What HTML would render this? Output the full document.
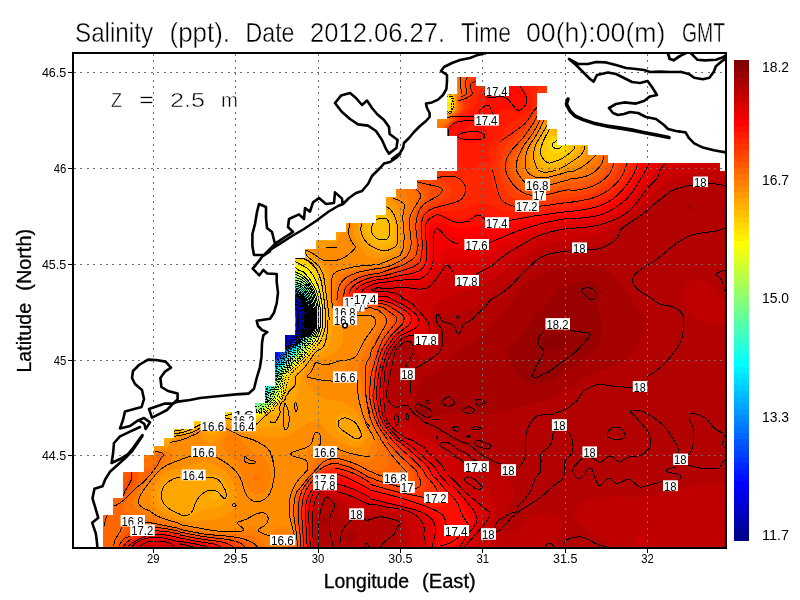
<!DOCTYPE html>
<html><head><meta charset="utf-8"><title>Salinity (ppt)</title>
<style>html,body{margin:0;padding:0;background:#fff}svg{display:block}text{font-family:"Liberation Sans",sans-serif;fill:#000}</style></head><body>
<svg width="800" height="600" viewBox="0 0 800 600">
<rect width="800" height="600" fill="#fff"/>
<defs><clipPath id="sea"><path d="M103,548L103,515L113,515L113,498L123,498L123,472L144,472L144,455L154,455L154,446L164,446L164,438L174,438L174,429.3L194,429.3L194,421L225,421L225,412L255,412L255,403.4L265,403.4L265,386L275.4,386L275.4,352L285.4,352L285.4,335L295.4,335L295.4,258L305.4,258L305.4,249L316.4,249L316.4,240.4L336.4,240.4L336.4,232L346.4,232L346.4,223.3L376.3,223.3L376.3,215L386.3,215L386.3,197.5L396.3,197.5L396.3,189L417,189L417,180L437,180L437,171.3L457.6,171.3L457.6,136L447.4,136L447.4,127.6L437,127.6L437,119.6L447.4,119.6L447.4,94.4L457.6,94.4L457.6,77L475.6,77L475.6,86L547,86L547,93L537,93L537,120L547,120L547,129.3L557,129.3L557,145.7L587.5,145.7L587.5,155L608,155L608,163L719.3,163L719.3,171.7L727,171.7L727,548Z"/></clipPath><clipPath id="fr"><rect x="73" y="53" width="653" height="494.5"/></clipPath></defs>
<g clip-path="url(#sea)" shape-rendering="crispEdges">
<rect x="70" y="50" width="660" height="500" fill="#000099"/>
<path fill="#0000a6" d="M70,50L730,50L730,550L70,550ZM296,310L295.5,312L296,313.7L296.6,312ZM296,316.3L295,317.6L294.6,320L295,322.5L296,324L297.1,323L297.5,319L297,317.2ZM296,326.4L294.9,328L295,330.3L296,330.4L296.9,328Z"/>
<path fill="#0000b2" d="M70,50L730,50L730,550L70,550ZM296,306.9L295,307.8L291.8,314L291.5,316L292.1,320L291,325L292.7,331L294,332.9L295,333.3L296,333L296.8,332L300.8,326L299.3,321L300.9,316L297.5,308Z"/>
<path fill="#0000bf" d="M70,50L730,50L730,550L70,550ZM286,338.6L285.4,341L286,342L287,341.8L287.7,340L287,338.7ZM296,305.5L294.4,307L290.3,315L290.4,320L289.4,325L289.6,328L290.6,333L291.3,334L293,334.8L296,334.2L299,330.4L302,327.7L302.7,326L300.7,321L302.6,317L302.5,315L300.4,312L298,306.6L297,305.6Z"/>
<path fill="#0000cc" d="M70,50L730,50L730,550L70,550ZM296,303.8L294,306L289.5,314L287,332.4L282.5,337L282.3,338L283,340L285,342.9L286,343.4L288,342.5L297,334.4L303.3,327L303.4,325L302,321L303.4,317L303.4,315L298.9,306L297,303.9Z"/>
<path fill="#0000d9" d="M70,50L730,50L730,550L70,550ZM295,302.8L289,313L285.4,330L280.8,337L280.8,339L282,341L284.8,344L286,344.4L288.6,343L296,336.4L303,328.8L304,327L303.2,321L304.1,317L303.7,314L299,304.6L297,302.6L296,302.3Z"/>
<path fill="#0000e6" d="M70,50L730,50L730,550L70,550ZM295,301.6L288,313L283.8,329L279.7,337L279.8,339L280.6,341L285,345L287,344.9L293.2,340L303.6,329L304.5,327L304.1,321L304.6,316L304,313.2L299,303.3L297,301.6Z"/>
<path fill="#0000f2" d="M70,50L730,50L730,550L70,550ZM295,300.8L293.6,302L286.9,313L282.4,328L278.9,336L278.8,339L280,341.9L281.9,344L285,345.8L288,345L294,340L304,329.3L305,327.1L305.1,316L304,311.7L302,307L299,302.2L297,300.8Z"/>
<path fill="#0000ff" d="M70,50L730,50L730,550L70,550ZM295,299.9L292.7,302L286.3,312L277.8,336L277.9,340L279.3,343L281.5,345L285,346.5L288,345.6L294.7,340L300,334.6L305.3,328L305.5,317L305,313L303,307.7L300,302.3L298,300.4Z"/>
<path fill="#000dff" d="M70,50L730,50L730,550L70,550ZM273,353.9L272.5,355L272.8,357L274,357.5L275,357.2L276,356L276,354.7L275,353.6ZM296,298.9L295,299.1L292.7,301L285.7,311L283,317L277.1,334L276.5,339L277.6,343L280,345.6L283,346.7L286,347.1L289.6,345L299,336.3L305.7,328L305.8,317L305,311.7L303,306.5L300,301.2L298,299.6Z"/>
<path fill="#0019ff" d="M70,50L730,50L730,550L70,550ZM274,351.5L272,353L271.3,355L272,357.8L274,358.6L276.6,357L277.4,355L276,352ZM294,298.8L288.5,305L283.9,312L276.5,331L275.3,336L275.4,341L277,345.5L279,347L285,347.8L289,346L299,336.9L305,330L306.1,328L306,315L304,307.8L301,301.8L299,299.4L296,298.1Z"/>
<path fill="#0026ff" d="M70,50L730,50L730,550L70,550ZM295,297.6L290.8,301L284.4,309L280.6,316L276.7,326L274.8,332L273.9,337L274.5,348L271.4,352L270.5,354L270.7,357L271.2,358L273,359.2L276,358.5L278,356.1L278.2,350L281,348.7L286,348.2L289.6,346L300,336.3L306.4,328L306,313L304,306.9L300,299.6L297.7,298Z"/>
<path fill="#0033ff" d="M70,50L730,50L730,550L70,550ZM295,297L293.1,298L289.8,301L283.8,308L279.6,315L275.8,324L272.6,335L272.1,347L269.6,354L270,357L272,359.4L274,359.9L277,358.3L278.6,356L279.2,352L280,350.7L282,349.5L286,348.6L290,346.1L301,335.6L306.7,328L306.9,321L306.3,313L304,306.1L300,299L297,297.2Z"/>
<path fill="#0040ff" d="M70,50L730,50L730,550L70,550ZM294,296.8L287.6,302L281.7,309L277.6,316L273.4,326L271.3,334L270.4,346L268.7,354L269.6,358L272,360.1L275,360.2L277,358.9L279,356.3L280,352.8L281,351.3L288,347.9L295.1,342L301,336L307,328.2L307.2,321L306.5,313L304,305.4L302,301.3L299.4,298L296,296.5Z"/>
<path fill="#004dff" d="M70,50L730,50L730,550L70,550ZM293,296.7L286.4,302L280.3,309L275.5,317L271.4,327L269.4,336L267.8,354L268.8,358L270,359.5L272,360.7L275,360.7L277,359.5L279.2,357L281.5,352L288,348.3L296,341.5L302,335.2L307.3,328L307.4,321L306.8,313L303.2,303L301,299.3L299,297.3L296,296Z"/>
<path fill="#0059ff" d="M70,50L730,50L730,550L70,550ZM294,295.8L287.3,300L279.5,308L274.4,316L270.1,326L267.7,336L266.6,353L267.1,356L268.5,359L270,360.5L272,361.4L275,361.3L277.1,360L279.7,357L282,352.6L289,347.9L296,341.8L302,335.6L306.5,330L307.6,328L307.7,322L307,313L304.4,305L302.4,301L300,297.7L297,295.8Z"/>
<path fill="#0066ff" d="M70,50L730,50L730,550L70,550ZM292,296L284.6,301L277.9,308L272.6,316L268.3,326L265.9,337L265.3,352L266.8,358L268.2,360L271,361.8L273,362.2L275,361.9L277.8,360L282.6,353L290,347.4L297,341.2L302,336L306.8,330L307.8,328L308,322L307.1,312L303.3,302L301,298.4L298,295.8L295,295.1Z"/>
<path fill="#0073ff" d="M70,50L730,50L730,550L70,550ZM293,295L288.8,297L284.3,300L277,307L270.8,316L266.5,326L264.1,338L263.9,352L264.8,356L266.2,359L268,361.1L271,362.7L275,362.6L278,360.5L283.5,353L296,342.5L301,337.4L307.1,330L308,328L308.2,322L307.3,312L303.6,302L301,298L299,296L296,294.6Z"/>
<path fill="#0080ff" d="M70,50L730,50L730,550L70,550ZM292,294.7L287.2,297L282.6,300L275.2,307L269,316L264.7,326L262.3,338L262,346L262.5,352L263.5,356L264.9,359L267,361.6L270,363.4L274,363.6L278,361.2L284.3,353L296,342.8L301.7,337L307.3,330L308.3,328L308.4,322L307.6,312L303.9,302L301,297.5L298,294.9L295,294.1Z"/>
<path fill="#008cff" d="M70,50L730,50L730,550L70,550ZM293,293.8L289,295.2L283.7,298L275.1,305L268.2,314L263.1,325L261.5,331L260.4,338L260.3,345L260.8,351L261.7,355L263.4,359L266,362.3L269,364.2L273,364.7L275,364.2L277,362.9L286.1,352L301.1,338L308.2,329L308.7,323L307.9,313L304.6,303L301.7,298L299,295L296,293.6Z"/>
<path fill="#0099ff" d="M70,50L730,50L730,550L70,550ZM294,292.9L289,294.4L283.5,297L278.8,300L274.1,304L266.8,313L263.9,318L261.4,324L259.7,330L258.6,337L258.4,344L259.1,351L260.4,356L262.4,360L265,363.2L269,365.6L271,365.9L274,365.5L277,363.7L287.7,351L302,337.3L308.4,329L308.9,323L308.2,313L305.7,305L303.4,300L300,295.3L297,293.3Z"/>
<path fill="#00a6ff" d="M70,50L730,50L730,550L70,550ZM291,293L285.3,295L280,297.8L275.4,301L271,305L266.7,310L263.4,315L258.7,326L257.1,333L256.5,340L256.8,347L257.8,353L259.6,358L262,362.1L265,365.1L269,367.2L273,366.9L277,364.6L289.2,350L302,337.7L308,330L308.9,328L309.1,322L308.3,312L304.3,301L301,295.9L298,293.2L295,292.3Z"/>
<path fill="#00b2ff" d="M70,50L730,50L730,550L70,550ZM293,291.9L287,293.4L281,295.9L275.8,299L270.8,303L266,308L262.4,313L259.2,319L256.9,325L255.2,332L254.5,339L254.8,346L256,353L258.2,359L261,363.4L265,367.2L269,369.1L272,368.9L277,365.5L289.7,350L302,338L308.3,330L309.2,328L309.4,322L308.6,312L305.5,303L302.2,297L299.8,294L296.2,292Z"/>
<path fill="#00bfff" d="M70,50L730,50L730,550L70,550ZM289,292L282.5,294L276.4,297L270.6,301L266,305.3L261.4,311L257.8,317L255.3,323L253.4,330L252.5,337L252.7,345L253.8,352L255.8,358L258,362.1L261,366.1L264,368.8L269,372L272,375.9L273,376.2L274.1,375L274.1,373L273.4,371L274.1,369L277.2,366L290.2,350L302.4,338L308.5,330L309.4,328L309.6,322L308.8,312L304.5,300L301.3,295L298,292.1L294,291.2ZM263,390.8L262.3,392L263,393.2L264,393.2L264,391.9Z"/>
<path fill="#00ccff" d="M70,50L730,50L730,550L70,550ZM291,290.9L284,292.4L277.4,295L271,298.7L265.7,303L261.1,308L257,314L253.7,321L251.5,328L250.5,335L250.4,343L251.6,351L253.8,358L256.4,363L260.2,368L269.8,376L272,377.3L274,377L275,375.1L274.7,371L275.2,369L290.8,350L303,337.7L308.8,330L309.6,328L309.8,322L309.1,312L305.4,301L302,295.3L299,292.2L295,290.8ZM262,389.4L261,391L261.3,393L263,394.4L265,394.1L265.1,392L264,389.6L263,389Z"/>
<path fill="#00d9ff" d="M70,50L730,50L730,550L70,550ZM286,290.9L279,292.9L272.4,296L266.4,300L261,305L257,310L253.4,316L250.5,323L248.8,330L248,338L248.5,346L250,353L252.6,360L256,366L261,371.8L265.1,375L271.6,378L274,377.6L275,376.5L275.7,374L275.6,370L276.7,368L292.3,349L303,338.2L309,330L309.8,328L310.1,322L309.4,312L306.7,303L303,296L300,292.4L297,290.7L293,290.1ZM263,387.9L260.9,389L260.2,392L261.1,394L264,395.3L265,395L265.9,393L264.6,389Z"/>
<path fill="#00e5ff" d="M70,50L730,50L730,550L70,550ZM286,289.9L279,291.6L272.9,294L267,297.3L261,302.1L256.4,307L252.3,313L249,320L246.9,327L245.8,334L245.8,342L247,350L249.1,357L252.3,364L257,370.8L262,376L266,377.9L272,378.7L274,378.2L275,377.2L276,374.8L276.2,370L277.4,368L292.9,349L303,338.6L309,330.4L310.1,328L310.3,321L309.7,312L306.7,302L303.5,296L300,291.8L297,290.2L292,289.5ZM262,386.8L259.8,389L259.3,391L259.7,393L262,395.4L265,395.6L266,394.6L266.3,393L265.4,389L264,387.1Z"/>
<path fill="#00f2ff" d="M70,50L730,50L730,550L70,550ZM286,289L279,290.3L272,292.7L265.6,296L260,300.1L255.1,305L250.6,311L247,318L244.7,325L243.5,332L243.2,340L244.2,348L246,355L248.9,362L253,369.1L260,378.3L263,380.7L273,379.1L275,377.8L276.3,375L276.8,370L278,368L293,349.6L303.1,339L309,330.9L310.3,328L310.6,321L309.9,311L306.8,301L303.4,295L300,291.1L297,289.7L292,288.8ZM261,384.8L258.9,388L258.7,392L259.6,394L261,395.4L263,396.4L265,396.3L266.7,394L266,388.6L265,386.4L263,384.4Z"/>
<path fill="#00ffff" d="M70,50L730,50L730,550L70,550ZM287,288L279,288.9L271.8,291L264,294.7L257.9,299L252,304.8L247.6,311L244.1,318L241.7,326L240.8,332L240.6,339L241.3,346L242.9,353L247.4,364L257.6,381L258,384L257.5,390L258.2,393L260,395.4L263,396.9L265,396.9L266,396.3L267,394.4L267.1,391L266,385L266.3,383L268.6,381L273,379.5L275,378.3L276.3,376L277.1,371L278.6,368L293.3,350L303.5,339L309.2,331L310.6,328L310.8,321L310.2,311L307.7,302L304.6,296L301,291.3L299,289.9L293,288.3Z"/>
<path fill="#0dfff2" d="M70,50L730,50L730,550L70,550ZM277,288L269.5,290L262.8,293L256.6,297L251,302.1L246.2,308L242.3,315L239.7,322L238.1,330L237.8,337L238.3,344L239.5,350L241.7,357L245.4,365L254.7,381L257.3,393L260,396.2L264,397.7L266,397L267.2,395L267.2,386L268.2,383L270,381.5L274,379.5L275.5,378L276.9,375L277.5,371L279.2,368L294,350L304,339L309.5,331L310.8,328L311.1,320L310.6,311L307.4,300L302.3,292L299,289.2L292,287.4L285,287.1Z"/>
<path fill="#1affe5" d="M70,50L730,50L730,550L70,550ZM275,286.8L267,288.9L260,292L253,296.6L247.3,302L242.7,308L239,315L236.6,322L235.1,330L234.9,337L235.5,344L237.3,352L239.9,359L243.8,367L252.1,381L255.3,391L256.8,394L260,397L264,398.3L266,397.8L267.6,395L268.1,387L269,384L275.9,378L278,371L279.7,368L295.5,349L304,339.6L310.4,330L311.2,327L311.1,312L310,307L307.5,299L304.6,294L302.3,291L300,289L298,288.1L291,286.5L283,286Z"/>
<path fill="#26ffd9" d="M70,50L730,50L730,550L70,550ZM278,285L269,286.3L261,289L253.5,293L247.1,298L241.7,304L236.8,312L233.8,320L232.1,328L231.8,336L232.6,344L234.5,352L237.5,360L241.6,368L250,381.8L255.6,394L259,397.2L264,399L266,398.5L267.1,397L268,395L269.6,385L270.9,383L276.2,378L279.5,369L284.1,363L304,340.2L310,331.3L311.4,328L311.7,320L311.1,310L308.5,300L304,292L301,288.9L297,287.1L288,285.2Z"/>
<path fill="#33ffcc" d="M70,50L730,50L730,550L70,550ZM272,283.9L263,285.8L255.1,289L248,293.4L241.7,299L236.2,306L232.5,313L229.9,321L228.6,330L228.7,338L229.9,346L232.5,355L236,363L248,382.6L254.2,394L258.7,398L264,399.5L266,399.1L267.5,397L270.1,386L271.1,384L276.5,378L278.4,372L280,369.1L304,340.9L310.5,331L311.8,327L311.7,312L310.9,307L308,297.6L305.5,293L303.1,290L299,287L289,284.4L281,283.5Z"/>
<path fill="#40ffbf" d="M70,50L730,50L730,550L70,550ZM276,282L267,282.7L257.7,285L249,289L242,294L236,300.2L230.8,308L227.1,317L225.3,326L225,335L226.1,344L228.6,353L232.5,362L237.1,370L252.7,394L257,398L263,400L266,399.6L267.9,397L270.9,386L276.8,378L280,369.7L304.4,341L310.8,331L312.1,327L312.1,312L311.3,307L308.7,298L304.8,291L301.9,288L298,285.9L286,282.9Z"/>
<path fill="#4dffb2" d="M70,50L730,50L730,550L70,550ZM264,280.9L255,283L247,286.5L239,291.8L233,297.8L227.9,305L224.2,313L221.9,322L221.1,331L221.8,340L224.2,350L227.8,359L232.7,368L252.6,396L255,398L258,399.6L264,400.6L266.1,400L268.3,397L271.3,387L277,378L280.2,370L285.9,363L293.6,355L304,342.1L308,336.4L312,329L312.7,320L312.3,310L310.3,301L307,293.1L304.8,290L302,287.2L298,285.2L283,281.2L273,280.3Z"/>
<path fill="#59ffa6" d="M70,50L730,50L730,550L70,550ZM260,278.9L251,281.1L242.3,285L235,290L228.1,297L223,304.8L219.6,313L217.6,322L217.1,331L218.2,341L220.6,350L224.3,359L229.4,368L235.8,377L251,396.3L256,399.8L260,401L263,401.2L266,400.5L268.1,398L272,387.1L277.3,378L280.7,370L286,363.5L294.2,355L307.5,338L312.4,329L313,320L312.6,310L310.8,301L307.7,293L302.9,287L299,284.7L281,279.4L270,278.3Z"/>
<path fill="#66ff99" d="M70,50L730,50L730,550L70,550ZM264,276L254,277L244,280L235,284.7L228,290.4L221.5,298L217.1,306L213.8,316L212.6,326L213.2,336L215.3,346L219.1,356L224.6,366L232.7,377L249.6,397L254,400.3L261,402L265,401.4L267.1,400L269,397L272,388.6L277.6,378L281,370.1L295.8,354L308,338L312.7,329L313.3,320L312.9,309L311.3,301L308.4,293L304,286.9L300,284.3L283,278.5L273,276.5Z"/>
<path fill="#73ff8c" d="M70,50L730,50L730,550L70,550ZM252,274L242,276.5L233,280.6L225.4,286L218.7,293L213.6,301L210,310L208,320L207.9,330L209.3,340L212.4,350L217.2,360L222.9,369L231,379L249.4,399L254,401.9L261,402.9L265,401.9L267.5,400L269.4,397L272,390.1L281,370.7L286,364.8L296.5,354L308.5,338L312.3,331L313.3,328L313.4,310L311.8,301L309.6,294L306,288L302,284.4L285,277.7L274,274.7L263,273.3Z"/>
<path fill="#80ff80" d="M70,50L730,50L730,550L70,550ZM247,270.9L237,273.5L228,277.7L220,283.4L212.9,291L207.5,300L204.2,309L202.5,319L202.6,330L204.7,341L208.3,351L213.5,361L220.5,371L228.4,380L250,401.8L254,403.6L261,403.9L265,402.5L268,400L275,385.8L281,371.4L285,366.5L297,354.4L309.6,337L312.7,331L313.7,328L313.7,308L311.3,297L309.4,292L305.4,286L301,282.8L295,281.2L282,275.2L271,271.9L259,270.3Z"/>
<path fill="#8cff73" d="M70,50L730,50L730,550L70,550ZM245,266.9L234,269.2L224,273.3L215.5,279L208,286.6L202.5,295L198.5,305L196.5,316L196.6,327L198.6,338L202,348L207,358L213.7,368L223.5,379L244.8,399L250,406.1L258,406.7L265,403.1L268.5,400L275.7,386L281.1,372L285,367.1L297.3,355L309.6,338L313.7,330L314.2,328L314.2,308L311.7,296L310.3,292L306.5,286L302,282.3L295,280.1L280,272.7L269,268.9L257,266.8Z"/>
<path fill="#99ff66" d="M70,50L730,50L730,550L70,550ZM237,262.9L226,265.6L216,270.2L207,276.8L199.6,285L194.4,294L190.7,305L189.4,316L190.1,327L192.6,338L196.8,349L202.4,359L209.7,369L220.3,380L243,399.4L246,403L248.1,408L250,408.5L254,408.1L258,409.2L260,408.3L262,406L267,402.3L269,400L276,387.1L280,375.1L281.5,372L285,367.7L298,355.1L310.2,338L313.8,331L314.6,328L314.5,306L312.4,296L311,291.9L307,285.5L301.5,281L296,279.3L277,269.4L265,265L258,263.3L251,262.5L244,262.3Z"/>
<path fill="#a6ff59" d="M70,50L730,50L730,550L70,550ZM230,257.9L219,260.6L208,265.7L199,272.4L191.4,281L185.9,291L182.6,302L181.5,314L182.6,326L185.5,337L190.7,349L197.3,360L205.3,370L217.8,382L242,400.6L244.9,404L247,408L249,409.1L254,409L258.2,410L260.4,409L269.7,400L276,389L280.1,376L282,372L286,367.3L298,356L310.9,338L314.3,331L315.1,328L315.3,311L314.9,305L312.8,295L311.2,291L307,284.5L302,280.3L295,277.5L274,265.5L261,260.3L253,258.4L245,257.3L237,257.2Z"/>
<path fill="#b3ff4c" d="M70,50L730,50L730,550L70,550ZM228,251L215,253.1L208,255.4L202.3,258L191.7,265L187.4,269L183.1,274L177.1,284L174.8,290L173.2,296L172,309L173.4,322L177.1,335L183.2,348L190.9,360L200.3,371L213.8,383L240,400.8L243,403.6L247.3,409L259,410.4L261,409.3L268.8,402L273.2,396L277,388.6L279.8,378L282.4,372L286,367.9L298.7,356L311.6,338L314.9,331L315.8,327L315.9,309L314.7,301L312,291.3L308.9,286L306,282.5L302,279.4L292,274.6L274,262.7L262,256.8L251,253.1L240,251.2Z"/>
<path fill="#bfff40" d="M70,50L730,50L730,550L70,550ZM222,243L208,244.6L201,246.5L194,249.2L188,252.3L182,256.4L176.6,261L172.1,266L168.6,271L165.3,277L163,283L161.4,289L160.4,296L160.3,303L162.1,317L166.5,331L173.4,345L182.8,359L193.6,371L200.2,377L207.8,383L216.9,389L238,401.2L242,404.3L246.4,409L249,409.9L259,411L261,410L268,403.7L272.9,398L277.3,390L280,379L282.9,372L290,364.6L299.3,356L310.4,341L313.7,335L315.9,330L316.5,324L316.4,308L314.4,297L312.9,292L310.3,287L305,280.7L302,278.4L292,273.3L277,261.7L267,255.1L256,249.6L245,245.8L234,243.6Z"/>
<path fill="#ccff33" d="M70,50L730,50L730,550L70,550ZM205,233L197.2,234L190,235.6L183,237.9L176,241L170,244.4L163.8,249L158.5,254L154.4,259L151.2,264L148.2,270L146.2,276L144.8,283L144.4,290L144.7,297L145.8,304L147.7,312L154,328L163.1,344L174.4,359L188.1,373L196.7,380L205.4,386L215,391.5L237,402.4L241,405L246,409.3L257,411.6L259,411.5L261.8,410L267.6,405L274,398L277.8,391L280.4,379L283,372.5L285,370L300,356L311.1,341L314.4,335L316.9,328L317.2,315L316.8,306L314.3,294L310.3,286L305,279.7L302,277.4L293,272.7L272,254.3L258,244.9L245,238.8L232,234.9L218,232.9Z"/>
<path fill="#d9ff26" d="M70,50L730,50L730,550L70,550ZM184,218.9L175,220.2L167,222L159,224.6L151.2,228L144,232L138,236.2L132.6,241L127.3,247L123.9,252L121.1,258L119.2,264L118.4,270L118.3,276L119.2,283L120.9,290L123.7,298L128.2,308L133.6,318L146.8,338L162.6,357L170.4,365L179.3,373L194.2,384L208.4,392L235,403.1L240,405.7L246.2,410L253,410.8L257,412.1L260,411.7L268.6,405L275.1,398L278.8,391L280.9,379L283.2,373L285,370.6L297,359.8L301.5,355L311.8,341L315.5,334L317.6,327L317.8,310L316.7,302L314.2,292L310.3,285L305,278.7L301,275.7L293.7,272L269,247L259,239.1L249,232.8L233,225.5L217,220.9L200,218.6Z"/>
<path fill="#e5ff1a" d="M70,50L730,50L730,550L70,550L70,297.8L77,298.7L84,300.9L92,304.9L100,310.3L114,322.2L143.7,351L158,364L172.9,376L186.2,385L197.1,391L207,395.4L232,403.6L240,407L246,410.5L252,411L257,412.7L260,412.2L263.5,410L270,404.6L277,397L279.4,392L281.2,380L283.7,373L301.4,356L313.8,339L318,329L318.5,318L318.2,307L315.5,294L312.4,287L307.4,280L302,275.1L294,271L273,245.1L266,237.6L259,231.2L251,224.9L243,219.5L226,210.3L211,204.3L195,199.7L178,196.6L161,195.2L147,195.2L133,196.2L88,203L70,204.4Z"/>
<path fill="#f2ff0d" d="M70,50L730,50L730,550L70,550L70,328.1L78,328.7L87,330.7L96,333.8L106,338.7L123,349.2L166.8,380L179,387.3L191,393.4L207,399.4L232,405.4L240,408.1L245,410.8L252,411.4L256,413.1L258,413.3L262,411.8L268.3,407L275.7,400L278.1,397L280.2,393L281.7,380L284,373.5L286,371L302.2,356L313.4,341L317.3,333L318.7,329L319.2,319L319,308L316.8,296L314.7,290L309,280.7L303,274.4L296,271.2L294.5,270L287.3,260L274,239.2L262,224.2L249,211.5L235,200.2L217,188.2L196,176.5L171,164.4L143,152.6L121,144.5L102,139L85,135.8L70,134.8Z"/>
<path fill="#ffff00" d="M140.4,50L730,50L730,550L70,550L70,347.6L79,348.2L88,349.7L98,352.5L108,356.3L126,365.1L168.8,389L181,394.8L191.5,399L207,403.3L229,406.3L240,409.1L245,411.5L251,411.6L256,413.8L258,414L262,412.5L269.5,407L278.6,398L281,393.7L282.4,380L285,373L301.3,358L304.8,354L315.5,339L318.6,332L319.7,328L319.6,306L316.8,293L313,285L309,279L304,273.4L302,271.9L296.6,270L295.5,269L288.8,259L280,240.3L272,225.8L264,213.8L254,201L235,180.4L185.2,132L172.5,118L162.2,105L152.4,90L145.7,76L141.8,63Z"/>
<path fill="#fff200" d="M195.8,50L730,50L730,550L70,550L70,363.2L79,363.7L89,365L99,367.3L109,370.3L128,377.8L170.4,397L190.5,404L207,407.2L229,408L240,410.1L245,412.4L251,412L255,414.3L258,414.7L262,413.2L270,407.5L279.6,398L282,393L282.9,381L285.4,374L288.9,370L301.3,359L305,355L315.9,340L320.2,330L320.9,322L320.6,307L318.4,295L316.4,289L310.2,278L305.4,272L303,270.1L298,267.9L291.8,261L290.3,258L280,227.5L275,215.8L269,203.7L256,181.7L225.3,135L212.8,113L205.6,97L200.2,81L196.9,65ZM448,97.9L446.7,99L446.4,100L447,101.6L448,102.1L450,101.4L450.6,100L450,98.5Z"/>
<path fill="#ffe500" d="M232.1,50L730,50L730,550L70,550L70,376.8L89,378.2L110,382.6L130,389L170.4,404L189,409L199,410.7L207,411.3L228,409.5L236,411.3L240,411.3L245,413.7L249,412.7L251,412.8L255,415.4L258,415.5L262,413.9L270.7,408L280,398.6L282.5,394L283.9,381L286.5,374L289.9,370L302,359.5L305.2,356L316.5,341L320.9,331L321.9,322L321.6,307L318.6,291L314,280.4L309.2,273L305,268.8L295,262.6L292.3,259L285.8,225L279.4,202L271,179.7L249.1,128L239.8,101L236.5,88L234,75L232.6,62ZM447,96.9L445.1,99L444.9,101L446,103.2L448,103.8L451,102.4L451.6,100L451,98.1L450,97.1L449,96.7ZM448,107.6L447,108.4L446.9,110L447.8,111L449,111.2L450,110.5L450.3,109L449.5,108Z"/>
<path fill="#ffd900" d="M261.7,50L730,50L730,550L70,550L70,389.1L90,390.2L111,393.7L132,399.1L170.7,411L184,413.8L197,415.5L207,415.8L211,415.2L220,412.7L228,411.5L233,412.2L240,416.2L258,416.4L262,414.6L272,408.1L275.1,404L280.4,399L283.1,394L284.8,381L286.6,376L288.3,373L291,370L304,358.6L317,342L319.7,337L322.4,329L323.2,319L322.6,306L319,287.5L314.7,277L310,270.2L305,266L296,261.6L293.7,259L292.1,223L289.9,202L285.4,179L272.2,127L266.8,102L263,75ZM447,95.8L444.1,98L443.4,101L444.9,106L445.4,110L447,111.9L449,112.4L450.1,112L451.4,110L452.3,100L451.6,98L450,96.2ZM555,141.9L553,142.7L551.7,144L551.8,146L553,147.9L557,149.3L560,148.3L560.6,147L557.3,145L556,142Z"/>
<path fill="#ffcc00" d="M288.3,50L730,50L730,550L70,550L70,400.5L91,401.4L113,404.2L135,408.7L176,419.2L191,419.9L194,420.8L197,422.6L202,420.6L205,420.6L207,421.5L210,424L211.3,423L212.8,420L215,418L219,415.6L223,414.3L228,415.3L232,413.6L238,417.8L241,418.6L250,418.9L257,417.7L261,416.1L268,411.2L272.5,409L276.1,404L281.2,399L284.1,393L286,380.8L289.5,373L304.8,359L317.5,343L320.5,338L323.4,329L324.5,318L323.7,306L322.5,298L321,289L319.4,283L316,274.4L311,267.5L308,264.8L304,262.4L296.1,260L295.2,259L295,258L296.2,254L296.7,242L299.6,216L300.2,191L298.7,169L292.8,122L290.4,98L288.9,74ZM446,94.9L443.9,96L442.3,98L441.6,100L441.7,103L444.7,111L447,112.6L449,113.1L450.9,112L452.1,110L453.1,105L452.8,100L452,97.5L450,95.3L448,94.7ZM554,138.9L550.9,140L548.3,143L547.8,146L548.6,149L550,151L553,153L556,153.5L560,152.7L562.6,151L563.9,149L564.3,147L563.7,145L558,139.6L556,138.9Z"/>
<path fill="#ffbf00" d="M313.6,50L730,50L730,550L70,550L70,411.5L99,412.5L125,415.3L142,418.4L164,423.5L170,425.1L177,427.8L184,427.4L187.3,425L190,423.9L192,423.8L197,424.9L202,423.1L204,423.4L208,426.4L211,426.9L214,425L216.7,421L219.7,418L222,416.4L224,415.8L228,417.1L233,416.5L238,419.7L241,420.7L248,421.2L253,420.4L260,417.7L268,412L273,410.1L274.4,409L276.3,405L281.3,400L283.8,396L284.9,393L287,382.2L288.9,377L291,373.1L305,360.3L318.4,344L321.1,340L324.7,329L325.8,317L324.7,305L322.5,289L320.3,279L317,270.9L312.4,265L307.4,261L304,259.1L299.7,258L299.3,257L299.3,249L299.9,244L306.5,222L309.9,209L312.5,195L313.9,182L314.4,164L313.6,112ZM444,93.9L441,96L439.8,98L439.2,101L439.6,104L441.3,108L443.4,111L446.4,113L450,113.3L452.2,111L453.8,105L452.8,98L451,95.2L449,93.8L447,93.4ZM548,135.5L543.8,142L542.2,148L543,155L546,159L550,160.8L557,159.6L564,156.3L568.8,152L569.8,150L569.4,148L567,144L563,140L557,136.4L550,135.1Z"/>
<path fill="#ffb300" d="M339.1,50L730,50L730,550L70,550L70,422.2L103,422.5L124,423.7L141,425.8L163,430.3L180,432.5L183,431.7L186.9,432L189,428L191,426.3L198,425.7L201,424.6L203,424.9L208,428.3L212,428.6L216,426.2L222.6,418L224,417.2L228,418L232,417.9L237,421.5L242,423.3L248,423.7L252,423L259,419.5L269,412.3L274,411.6L275.9,410L277.9,405L284.4,397L291.5,377L293.1,374L305,362.3L315,350.1L319.3,346L322.2,342L325.8,330L327.1,317L322.9,283L320.9,275L318.1,269L312.8,263L303.6,256L302.3,253L301.9,249L303.6,243L313.6,225L322.3,206L326.4,195L329.1,184L330.8,171L333.5,129L337.9,81ZM376,214.9L372,217.4L369.3,222L368,229L368.9,234L372,238.6L377,242L382,243.2L387,242.6L390.3,240L392.5,235L392.7,228L391.2,221L389,217.4L386,215.3L381,214.2ZM443,91.9L440,93.2L437.2,96L436,100L436.5,104L438.6,108L442.8,112L446,113.4L450,113.9L452.7,111L454.4,105L453.4,98L451.1,94L449,92.4L446,91.6ZM549,128.8L547,130.6L540.6,142L539.1,147L538.6,153L539.3,158L541.7,162L545,164.8L549,166L553,165.4L559,163.3L566,159.6L574.5,153L576,151L576.9,148L575.7,145L571,142.1L564.5,137Z"/>
<path fill="#ffa600" d="M366.4,50L730,50L730,550L70,550L70,432.9L114,431.7L134,432.4L145,433.8L154,435.8L162,438.2L167,441.4L169,439.8L170.1,436L172.4,434L176,433.4L180,433.9L183,433.3L187,433.4L188.8,432L191,428.6L195,427.1L201,426.1L208,430.7L211,431.3L214,430.7L219,426.9L222.4,423L225,418.8L231,419.4L235,423.2L241,425.8L247,426.7L252,426.1L254,425.1L268.5,414L270,413.6L274,415.3L277,413.6L278.4,411L280,404.8L281.1,403L285,399L288.5,391L293.1,384L294,377.9L295,375.2L303,367.5L316,351.3L320.5,348L323.1,345L324.9,341L327.5,330L328.5,317L323.4,278L321.5,272L319.4,268L314.8,263L306.1,256L305,254L304,249L306,244.9L318.3,232L331,214.3L341.9,201L344.4,197L346.1,193L347.7,184L349.3,157L351,141L354.2,123L363.9,81L365.8,66ZM372,207.9L369,208.9L367,210.3L365.5,212L364.2,215L363.6,219L363.5,229L364.7,235L368.5,241L374,245L382,247.8L385,247.8L389,246.7L391.9,245L393.7,243L395.9,237L396,228L393.6,218L390,212.8L385,209.5L378,207.7ZM442,88.9L437,90.1L433,93.3L431.1,98L431.7,103L434.7,108L439,111.6L444,113.6L450,114.3L451.8,113L453.3,111L454.7,106L454.9,103L453.7,97L452,93.3L450,91.2L446,89.3ZM548,126.9L546,128.8L538.9,141L536.4,147L535.5,153L536.2,160L539,165.5L543,168.8L548,169.8L552,169.3L559,167L566,163.4L577.6,155L579.8,152L580.7,149L580,146L578,143L568,135.1L562,131.7L553.3,128L550,126.8ZM212,491.7L210.2,493L209.2,495L209.3,497L210,498.3L212,499.9L214,500.4L216,500.2L218,499.1L218.8,498L219.2,496L218,493L215,491.4Z"/>
<path fill="#ff9900" d="M396.7,50L730,50L730,550L70,550L70,443.9L85,443.2L117,440L131,439.5L141,440L148,441L152,442.2L159,445.5L167,444.7L169,443.4L171.6,440L174,435.6L176,435.1L179,435.3L187,434.4L192,430.7L198.3,428L201.4,428L207,433.8L211,435.1L214,434.6L217,433L224,425.6L226,424.2L228,423.7L230,424L237,427.5L242,429.2L248,430.2L253,430L263,427.2L273,427L277,426.1L282.5,422L287.2,416L293.5,405L296.7,397L299,388.4L299.5,379L300.9,375L314,357.7L317,355.1L323.4,351L327.5,347L330.1,342L331.8,335L332,329L331.1,319L327.4,296L325.8,277L325,273L323.4,269L321.1,266L308,255L305.6,250L306,248.3L308,246.7L317,242.5L322.5,239L327.9,234L339.9,220L344,217.3L348,216.2L352,217L355.5,220L357.3,224L358.6,233L361,239L366,246L371,249.8L375,251.6L380,252.9L387,252.8L391,251.3L395,249L397,246.9L398.3,244L399.2,239L399.2,228L397.3,218L396,214L394,210L392,207.6L376.3,196L370.9,190L368.4,185L366.9,180L365.7,173L365.4,166L365.9,156L367.3,146L369.8,136L372.8,127L380,111.8L393.9,91L397.2,84L398.1,76ZM435,84L427,85.3L423.5,87L421.1,89L419.8,91L419.2,94L419.7,97L420.9,100L423.6,104L426.4,107L433.7,112L441,114.4L449,114.8L451,114.2L453.8,111L455.4,105L454.5,97L453,92.5L450,88.8L446,86.2L441,84.6ZM547,124.7L545,126.5L535.1,144L533,149L532.5,152L532.3,161L533.3,165L537.4,171L539,172.1L542,173.1L549,173L554,171.9L562.2,169L570.3,165L581.1,158L584.3,154L586,148.8L586,147L585,144.9L577.1,137L570,131.7L564,128.6L558,126.4L551,124.7ZM205,473.9L198,477.9L193,479.4L188,479L181,475.7L178,475.2L173,475.9L168,478.5L165,480.9L162,484.3L160.2,487L159.1,490L158.3,494L158.3,497L159.2,501L160.6,504L164,508L169.7,512L179,516.2L185,517.6L189,517.1L192,516L202,510.1L216,507.6L220,506.1L224,503.7L228,500L229.5,496L228.7,490L225.4,483L221.3,478L217,475.1L211,473.4ZM340,414.9L336.8,417L334.7,421L334.7,425L337.1,430L342,434.3L352,440.2L357,441.1L359,440.6L361,439.4L363,436L363,433L360,425.7L357,421.4L353,417.8L348,414.9L344,414.1Z"/>
<path fill="#ff8c00" d="M421.6,50L730,50L730,550L70,550L70,455.7L85,454.5L115,448.4L130,446.6L148,446.6L152,447.5L157.8,450L159.7,450L164,448.2L169,446.9L170.7,445L171.7,442L176,438.4L188,435.4L200,429.9L201,430.3L202,432L202.6,437L204,440L207,442.4L211,442.7L214,441.6L218,438.5L222.6,433L225.1,428L227,427L230,427.6L239,431.8L247,434.2L272,438.1L280,438.1L285,437L289.8,435L307,423.8L311,422.1L314,421.5L318,422.2L321,423.9L333.1,437L340,441.8L347,445.3L353,446.8L358,446.7L362,444.9L365,441.9L367,437L367,434L366.1,431L359,416.9L353,408.9L348,404.8L343,402.4L338,401.2L326,399.7L320,397.2L316,393.9L312,389.5L307,383.1L304.7,379L304.3,377L304.9,375L309,369.6L314,361.4L316,360.1L327,357L335,352L338,349L340.9,345L342.6,341L343.4,336L343,332L341.7,328L334.5,317L331,307.1L329.3,295L328.9,284L329.4,273L328.8,269L325.7,265L310,253.9L308,251.6L307.5,250L309,249.1L318,249.3L323,248.9L327,247.8L331,245.9L334.6,243L337.2,240L345.3,225L347,223.4L349,222.5L351,222.9L352,224L354.4,236L361,250L363,253L366.9,256L371,257.5L375,258.2L380,258.2L385,257.5L390,255.9L395,253.4L398,251L399.4,249L401.5,243L401.9,234L401.6,228L399.2,211L397.7,207L390.8,200L386.2,192L382.2,183L380.1,174L379.6,166L380.2,157L382,148L384.7,140L388.5,132L393.4,125L399,119.4L404.3,116L409,114.2L415,113.4L437,116.3L441,116.1L446,115L450,115.1L451.9,114L454.5,111L456,105L454.9,94L453,89L448,83.3L433.2,73L428,68L425.2,64L423.4,60L422.1,55ZM546,122.9L543.7,125L532.7,144L529.8,151L528.7,158L528.9,163L530.5,168L533.5,172L537,174.4L542,175.7L547,175.5L554,174.1L574.4,167L581.1,163L585.8,159L588.8,154L589.3,151L589.1,147L588.1,144L586.3,141L580,133.9L572,128.1L564,124.5L554,122.4L549,122.3ZM201,461.9L190,465.6L172,469.8L165.8,473L159.9,478L153.6,487L151.7,492L151.1,496L151.5,500L152.6,503L155.2,507L158.2,510L164,514L171,517.2L183,521.1L189,521.8L210.1,520L219,518.4L226,515.5L232.7,510L236.3,504L237.3,497L235.8,488L233.9,483L231.7,479L226,472.4L218,466.9L208,462.2L205,461.6Z"/>
<path fill="#ff8000" d="M436.3,50L730,50L730,550L70,550L70,469.2L78,468.6L86,466.9L113,457.2L124,454.3L143,452.1L153,450.1L159,451L164,450.4L167.3,451L169.8,452L172.5,454L173.5,456L173.4,458L171.1,461L164,466.1L157,472.6L143,490.3L139,497L137.9,501L138.1,504L141,507.5L160,517.9L176,522.7L182,525L203,528.9L226,531.7L244.9,531L246.4,530L249,526.7L252,526.2L254,527L257,531L260,533.1L267,536.4L270,536.9L271.7,536L273.2,532L275,529.2L277,527.6L280,526.5L283,526.5L286,527.4L292,532.1L292,528.6L289.7,519L288.8,511L288.9,503L290.1,496L292.6,489L297.4,481L306,471.8L307.8,469L308.3,463L306.5,455L307.6,452L311,448.6L315,446.3L320,446.4L324,444.9L327,445L332,446.3L340.9,451L350,454L366.8,457L368,457L369,456.1L368.3,453L368.6,451L371.2,444L373.5,440L373.5,437L370.5,431L369,426L365.5,421L363.4,416L359.5,401L358.4,394L358.1,386L357,380.5L356,379.5L351,378.8L348.2,377L345.9,374L344.9,370L345.5,367L346.8,365L355,358.7L357.4,356L365.6,340L375.2,326L376,324L376,321L373.7,317L370,315.2L363,315.2L346,317.5L340,316.2L337,314.5L333.8,309L331.9,300L331.9,284L334.1,276L336,273.5L339,271.6L344,269.6L357,266.3L379,264.2L388.4,261L399,256.1L400.9,254L402.5,251L404.4,244L404.4,230L403.6,223L403.6,215L405.5,205L404,202.6L397.2,196L394.3,188L392.2,180L391.2,173L391.2,165L392.3,157L394.6,149L397.7,142L401.5,136L405.8,131L410.6,127L415,124.5L420,122.6L440,118.7L446,115.5L449,115.6L451,115L454.7,112L456.4,107L456.2,93L455.4,89L452,82.1L443.1,70L439.7,64L437.2,57ZM548,119.9L545,120.5L543,122L537.4,133L528.7,146L526.2,152L524.7,159L524.7,164L526,170L529,174.3L533,176.9L538,178.3L544,178.6L548,178.1L576,171L584.8,166L593,159.2L595.2,155L591.8,143L587.9,136L581.5,129L574,123.9L566,120.7L557,119.3ZM229.5,433L233,433.6L239.8,438L250,449.4L263,457.8L266,461.1L268,464.3L270.5,472L270.9,476L270.5,480L269.5,484L267.5,488L265,491.2L262,493.3L259,494.3L255,494.3L252,493.2L249,490.8L245.4,485L240,467.6L238,462.8L235.5,460L228,454.7L225,450.7L223.3,445L223.6,440L226,435.6Z"/>
<path fill="#ff7300" d="M446.5,50L730,50L730,550L283.7,550L284.5,547L286.3,544L289.2,541L294,537.7L295,536L294.5,530L292.2,519L291.5,511L291.7,502L293.4,494L297,486.9L302.3,480L310.3,471L314.3,462L317,457.9L320,455.5L324,453.6L328,452.8L332,452.8L337,453.7L362,460.9L368,461.8L371,461.3L373,460.2L374.9,458L375.8,456L376.8,450L376.8,439L371,425.4L367.5,419L365.8,414L362.7,399L361.2,380L359.1,373L358.6,369L359.9,363L367.3,347L378.8,327L379.8,324L379.7,320L378.3,317L376.6,315L374,313.2L371,312.1L366,312L357,313.4L346,314.3L342,313.7L339,312.2L336.3,309L334.7,304L334.1,296L335,287L336.1,283L338.2,279L341,276L345,273.5L358,269.2L379,266.4L389,263.4L401,257.4L403.3,255L405.1,252L406.6,248L407.4,243L406.3,223L406.6,217L409.5,204L408.2,198L402.5,186L400.7,178L400.4,172L400.9,166L403.7,154L406.2,148L409.6,142L413.5,137L417.6,133L423,129.3L429,126.4L440,123.7L444,121.3L448,121.2L449.2,120L449.1,119L448,118.6L445,119.3L444.4,118L444.8,117L447,115.8L450,115.8L454.7,113L456,111.4L456.9,109L457.4,104L456.6,100L457.9,90L455.4,80L448.5,63L446.9,56ZM554,116L545,118.2L542.3,120L536,131.9L526.3,146L523.6,152L521.3,162L521.4,166L522.3,170L523.6,173L526,176.2L529,178.7L533,180.5L539,181.6L547,181.4L579,173.4L586,170.3L592,166.1L596,161.9L598.5,157L598.8,154L598.4,151L595,139.2L591,132L585,125.1L578,120L571,117L563,115.5ZM153.6,452L156,451.4L164,452.3L166.1,454L166.4,457L165,460L159.5,467L139.3,490L135.8,495L133.9,499L133.2,503L134.2,507L136.6,510L142,513.5L156,519.8L182,527.2L202,531.2L213,532.7L224,533.9L248,534.9L252,535.7L257,538.2L262,542L265.5,546L267,550L70,550L70,487.5L78,486.4L86,483.5L93,479.5L111.3,467L120,462.5L129,459.9L142,458.9L146,458L150,456ZM253.8,475L256,474.2L258,474.8L259,475.8L259.5,477L259.5,479L258,481L255,481.4L253.1,480L252.5,477Z"/>
<path fill="#ff6600" d="M454.7,50L730,50L730,550L293.6,550L295.7,544L296.5,536L293.7,517L293.7,502L295.1,495L298.2,489L305.3,480L321,462.1L324,460.1L329,458.2L333,457.3L337,457.5L352,461.6L369,468.8L377,470.7L381,470.4L384.5,469L386.9,467L388.5,464L388.9,460L387.3,454L379,437L375,430L369.6,418L366.4,404L365.2,395L364.9,370L365.4,363L368.4,357L371,349L384,326L385.1,322L384.8,319L383.3,316L378.9,312L376,310.4L371,309L368,309L354,311.4L345,311.6L340.2,310L338,307.6L336.8,304L336.6,297L337.7,289L339.1,285L341.4,281L344.4,278L349,275.2L361,271L383,267.4L391.2,265L403,258.7L405.9,256L408.4,252L410.4,244L410.3,238L409,223L409.7,216L415.8,202L417.1,197L416.5,194L411,187.7L408.5,182L408,175L409.5,165L411.9,157L414.8,150L418.2,144L422.8,138L426.9,134L430.9,131L435,129L441,127.3L445,123.8L449,121.9L450.2,120L449.9,119L449,117.8L446,118.1L445.9,117L447,116.4L450,116.3L455.9,113L457.6,110L458.4,104L457.3,100L458.4,96L460.7,91L459.7,86L459.6,78L457.4,71L455.6,62ZM560,110.8L550,113.6L545,115.9L542,118L540.4,120L536,128.5L531,136.5L524.5,145L521.7,150L519.1,156L517.5,162L517.8,170L518.8,173L521.3,177L524,180.1L526.6,182L536,184.7L546,184.9L574,178L584,176L589,174.1L595,170.3L600.9,163L602.9,156L601.8,145L598.3,134L592.9,125L586,117.9L578,113.1L569,110.7ZM158.5,454L162,454L163.1,455L162.8,456L160.6,459L156.1,467L146,479.4L141.8,484L135.7,489L126.6,500L124.7,503L123.6,506L124,509L125.3,511L129.9,514L150,521.8L202,533.2L236,536.6L246,538.7L253,541.9L255.9,544L258,547L258,550L70,550L70,536.7L75,535.6L81,532.2L87,527.1L93,520.1L97,514.1L100.1,508L103.9,493L106.1,487L109.5,481L113.5,476L121.3,469L125,466.9L129,465.5L135,465.3L147,468.2L151,467.3L154,465L156.4,462L158.2,458Z"/>
<path fill="#ff5900" d="M462.2,50L730,50L730,550L297.6,550L298.8,545L295.4,516L295.5,506L296.8,496L299.7,490L308,479L319,467.7L324,463.5L331,460.6L337,460.2L344,461.8L352,464.4L371,474L378.3,477L385.6,479L401,482.1L407,481.1L409.6,479L409.7,474L408,470L391.9,452L386.6,445L376.8,429L371.8,418L368.2,403L367.3,397L367.5,380L369,365L374.3,350L380.3,338L388.3,325L389.2,321L388.5,318L386.9,315L384.9,313L380.9,310L376,308.1L369,307.3L353,309.2L348,309L344,308.1L341.9,307L339.8,305L338.7,302L338.8,299L340.6,290L342,286L345,281.9L349,278.7L355,275.6L361,273.4L384,269L393,266.1L405.2,260L409,256.6L411.3,253L413.2,245L412.1,230L412,222L412.6,217L416.5,208L422.6,199L423.8,196L423.7,194L422.2,191L414.4,184L413.5,181L414,176.8L421,155L424.6,147L428.2,141L431.2,137L435.1,133L450,122L451.4,120L449.8,117L453,114.9L456,113.8L457.7,112L458.7,110L459.7,104L458.1,101L458.2,100L459.9,96L462.6,93L463.2,91L462.2,85L462.8,77ZM568,104L562,104.8L555,107.2L548,111L542,115.4L539,118.9L530,134L520.9,146L516.6,153L514.3,158L513.2,162L513,166L513.5,171L515.1,175L517.5,179L520.9,183L524,185.3L529,187.2L534,188.3L544,188.7L550,187.9L565,184.2L584,180.8L591,178.4L596.7,175L601.1,171L604.6,166L606.2,162L607.3,157L607,146L604.5,134L599.6,123L593.6,115L586,108.7L582,106.6L577,104.9ZM128.5,470L132,469.3L135.5,471L137.2,473L138.1,475L138.1,479L136.2,483L126,496L124,497.7L121,498L118.8,497L116.7,494L116.2,491L116.7,487L118.3,483L121.2,478L125,473ZM132.6,522L136,521.6L140,522L148,524L157,525.1L174,528.3L188,532L202,534.6L222,536.9L228,537.2L236,538.6L243,540.8L246.7,543L249.3,546L250.4,550L113.8,550L117.9,540L122.9,533L126.5,526L129,523.4Z"/>
<path fill="#ff4c00" d="M469.7,50L730,50L730,550L299.6,550L300.2,544L297.1,517L297.2,507L298.5,497L301.4,490L309,479.6L319,469.4L324,465.6L327,464L333,462.2L336,462.2L341,463.2L354,467.6L369,475.7L378,479.3L388,482.3L399,484.8L404,484.7L409,483.8L412.6,482L414.1,480L414.6,478L414.4,475L412.2,470L397,454.5L389,445.1L385,438.1L379.3,430L373.5,418L369.5,402L368.6,394L369.2,382L370.1,373L371.6,367L376.6,351L381.4,340L385,334L390.4,327L392.5,323L393,320L392.5,318L389.3,314L384,309.6L381,308L377,306.9L371,306.3L356,307.1L349,306.8L342,303.7L340.8,302L340.8,300L344.4,287L347,283.6L351.7,280L362,275.3L385,270.3L401,264.6L409,260L412,257.4L413.8,255L415.2,251L416.2,245L414.7,230L414.7,221L415.7,216L417.5,211L421,205L427.6,198L429.1,194L428.6,191L427.2,189L424.8,187L418,183.4L417,182L417.1,181L420.7,177L422.3,174L430.7,149L436.3,137L439.2,133L444.8,127L452.8,120L452.9,119L451,118.3L450.6,117L453,115.4L456.9,114L460,110L461.1,105L459.2,100L460.7,97L464.2,94L465.3,92L464.2,85L464.3,82L466.6,74L468.4,65ZM572,94.9L565,96.3L558,99.2L551,103.9L544,110.1L538.6,116L534,124L528,133L522,141.1L517.4,146L511.2,155L509.2,160L508.3,165L508.5,169L509.4,173L511.7,178L514.4,182L519.4,187L524,189.9L532,192.5L543,192.8L566,188L578,187.1L584,185.9L592,183.3L600,178.8L605,174L608.6,169L610.6,164L611.7,159L612.3,145L610.3,131L608.2,124L605.6,118L602.8,113L599,107.7L595,103.5L591,100.4L587,98L582,96L577,95ZM129.9,473L131,472.4L132,472.7L133,474.1L133.7,477L133.2,480L131.4,484L125,493.8L124,495.1L123,495.4L121.9,494L122.4,490L127.8,479ZM135.6,526L141,525.3L156,526.5L174,529.5L183,532.1L198,535.2L228,538.7L237.6,541L242.3,543L245.5,546L245.8,550L117.2,550L118.3,545L121,539.8L126.7,534L130.5,529L133,527.1Z"/>
<path fill="#ff4000" d="M477.9,50L730,50L730,550L301.2,550L301.5,543L298.8,517L298.9,508L300.4,497L303.2,490L306.2,485L310,480.1L320,470L324,467.4L329,465.4L334,464.3L343,466L355,470.4L369,478.2L378.2,482L399,487.6L410,487.6L417,489.1L420,488.2L421.5,486L422.1,483L421.2,479L417,470L399,452.8L390,443L387,437.8L381.7,431L378.7,426L374.8,417L372.9,411L370.8,401L370.4,395L370.8,384L371.9,375L378.3,352L379.8,348L385.5,337L396.3,324L397.6,321L397.5,318L394.5,314L383,306.9L376,305.4L356,305.5L351.1,305L347,303.5L345,302L344.2,301L343.8,299L346.8,288L350.2,284L355,280.7L360,278.1L366,276L381.8,273L402,266.6L411.1,262L416.1,257L417.6,253L418.6,247L418.6,242L417.1,232L417.2,223L418.3,217L419.7,213L422,209L425,205.6L441,196.3L443.6,193L445,190L444.9,188L444,186.8L436,183.7L433.2,182L431.4,180L430.5,177L431.1,171L439,140L441.3,134L444.5,129L454.8,119L455,117.9L454,117.4L452,117.7L451.6,117L453,115.9L456,115.3L457.8,114L460,112L461.9,109L462.7,105L460.4,100L461.5,98L466,95L467.6,93L467.8,91L466.5,86L466.6,83L472.7,71L475.2,65L477.3,57ZM573,80.8L568,82.5L562,85.8L557,89.7L552,94.7L536.5,115L531.8,123L527,129.4L520,137.9L511.2,147L506,154.8L504.5,159L503.2,166L503.3,170L504.9,176L508,182.2L512,187.8L516,191.5L521,194.5L525,196L531,197.3L542,197.1L547,196.7L565,193.1L573,192.9L583,191.5L593,188.5L603,183.1L609.7,177L613.5,171L616,164L617,158L617.9,148L617.9,138L617.3,130L615.9,122L613.7,114L611,107.2L607.8,101L603.8,95L599,89.6L594,85.4L589,82.5L584,80.8L579,80.1ZM141.3,528L153,527.9L164,528.8L178,531.6L183,533.3L198,536.4L226.4,540L233.3,542L236.9,544L239.4,547L240,550L119.7,550L120.7,545L123.2,541L129.9,536L132,532.5L134,530.7L137,529Z"/>
<path fill="#ff3300" d="M488.2,50L559.4,50L558.7,56L556.7,63L538.7,108L526,126.2L508.7,142L505.3,146L501.4,154L498.8,167L499,174L501.4,182L505,189.5L509.6,195L514.2,198L520,200L529,201.4L538,201.7L548,201L564,198.3L578,196.9L586,195.3L593,193.2L603,188.4L609,184L614.8,178L618.9,171L621.7,162L624.2,143L624.9,128L624.1,115L622.5,105L620,95.3L616,83.8L606.6,61L605,55L604.5,50L730,50L730,550L302.7,550L302.8,542L302,537L300.5,517L300.6,507L302,497.2L304.9,490L310,482L317,474.2L324,469L330,466.9L334,466.4L338,466.7L346,468.8L358.4,474L374,482.9L386,486.8L399,489.9L416,492.4L419,492.3L423,490.5L425.5,487L426,484L425.5,481L419.9,470L391.8,442L380,425.9L376.8,419L374.9,413L372.1,400L372.6,384L373.9,373L379.7,352L381,348.7L387.6,337L399.2,324L400.5,320L399.9,317L398.6,315L396,312.6L388,307.6L384,305.7L377,304.2L354,303.9L351,303L347.3,301L346.4,300L346,298L348.4,290L350.1,287L353.3,284L359,280.4L368,277.1L383,274.4L404,268.1L413,263.9L416,261.4L417.8,259L419.7,254L420.4,248L419.2,226L420.3,219L422,214L424,211L428,207.6L441,201.6L445.4,199L448.6,196L450.6,192L450.6,188L448.2,184L445,182L438,180L436.7,179L435.9,177L436.3,175L440.1,167L441.4,162L442.3,153L442.8,138L443.8,133L447.2,127L455.1,120L455.8,119L456.2,116L461.5,112L463.8,109L464.9,106L464.8,104L461.9,100L462.6,99L467.5,96L469.3,94L469.9,92L468.6,86L469.3,83L471,80.5L478.6,73L483.4,66L486.9,58ZM143.6,530L152,529.5L164,530L177,532.5L183,534.5L198,537.6L225,541.3L230.2,543L233.8,545L234.9,547L235.1,550L121.9,550L122.6,545L125.9,541L130.4,538L136,532.7L139.4,531Z"/>
<path fill="#ff2600" d="M506.9,50L528,50L529.3,56L535.9,73L537.9,85L537.7,95L536,107L528,118.4L524,122.9L500.1,142L496.6,151L495.6,162L491.5,171L491.6,177L492.6,183L494.9,190L497.8,196L501.4,201L503.8,203L508,205.2L514,206.3L520,205.9L544,206.2L567,202.6L575,202.2L591.7,199L597.1,197L607,191.9L613.2,187L619.1,181L624.5,172L627.1,164L632.4,134L634.1,121L635,109L635.1,96L632.6,50L730,50L730,550L304.1,550L304.1,541L303.2,536L302.1,517L302.3,504L303.5,498L308,487.6L312.8,481L318.2,475L326,470L331,468.6L334,468.4L345,470.6L353.7,474L360,477.1L367,481.3L372,485L393,491L420,496.9L424,496.9L432,491.3L436,490.7L436.3,490L436,488L426.1,475L421,467.2L412.8,459L394,441.9L384,429.8L380.8,425L378.1,419L374.4,405L373.3,397L375.3,374L380.8,353L382.4,349L389.1,338L402.5,324L404,320L403.3,316L399.2,312L386.8,305L378,303L360,302.8L355,302.2L350.4,300L349.3,299L348.9,297L350.4,291L352,288L355,285L361,281.3L372,277.5L384,275.7L406,269.7L412,267.7L417.8,264L420.6,260L422.1,254L422.2,243L421.2,233L421.2,227L422.7,219L425,214.4L429,210.8L433,208.8L458.8,202L462,200L465,196.8L467.7,190L467.6,187L466.5,184L463,179.5L452.8,173L451.1,170L448.6,150L445.3,137L445.6,132L446.9,129L449.1,126L456.1,120L457.3,116L463.8,112L467.3,108L468.4,105L469.2,99L471.7,96L472.6,94L472.8,87L473.6,85L485.4,77L495.9,67L504.2,57L506.2,53ZM144,532L154,531.1L164,531.4L176,533.6L183,535.8L198,538.8L217,541.4L223.8,543L227.6,545L229.5,547L229.8,550L124.1,550L124.5,546L127,542.6L137,534.8L140,533.2Z"/>
<path fill="#ff1a00" d="M656.4,50L730,50L730,550L305.4,550L305.3,540L304.5,535L303.4,517L303.5,508L304.7,500L308.2,491L316.6,479L320,475.7L327,471.7L333,470.6L344,472.8L359,479.6L371,487L383,490.6L421,500.3L426,500.6L434,498.6L438,496.6L439.5,495L440.4,493L440.2,490L438.3,486L430.6,477L423.1,466L413.7,457L395,440.9L384,427.7L381.7,424L379,418.1L375.7,404L374.8,396L376.6,375L382.6,352L384.6,348L392.5,336L405.3,324L406.8,320L406.2,316L404,313L401.4,311L390,304.7L386,303.1L378,301.6L360,301.4L355,300L352.3,298L351.5,296L352.4,292L353.8,289L356,286.4L359.5,284L369,280L377,277.8L384,277.2L394,275.1L409.7,271L416,268.4L420,265.5L422.8,261L424.2,255L424.3,246L422.9,230L423.2,226L424.2,222L425.5,219L428,215.7L431,213.4L435,211.5L440,210.6L451,210.8L458,210.1L464,208.4L475,203.9L481,203L487,204L502,209.8L510,211.6L516,211.7L545,209.8L577,205.8L593,202.7L603,198.7L612,193.1L618,187.8L623.7,181L627.9,174L630.7,167L634.8,152L645.1,119L650.6,97L655,72ZM510.3,75L515,74.8L520,76L524,78.4L527.4,82L530,86.8L531.6,92L533.4,104L533,106.2L532,107.6L522,116.3L512.8,121L508.5,124L505,128.6L503,136L500.5,138L496,139.4L493.1,142L489.9,147L488.3,152L488.4,155L491.3,159L491,161.2L489,162.1L486,161.6L484,162L475,166.8L471,168.3L467,168.6L463,167.6L460,165.4L458.3,163L457.3,160L456.6,152L455.4,148L452.6,143L447.1,136L446.7,133L448,129L451,125L457.5,120L458,117L458.7,116L467,112.5L471.6,109L473.8,106L476.9,100L479.6,92L482,88.9L502,77.8ZM149.6,533L159,532.4L168,533.6L193,539.2L217,542.9L222,545L223.5,547L224.1,550L126.2,550L126.4,547L127.2,545L134,539.3L142,534.6Z"/>
<path fill="#ff0d00" d="M684.2,50L730,50L730,550L306.8,550L306.6,539L305.8,534L304.8,516L304.9,509L306,501L309.8,492L319,479.1L322,476.7L329,473.3L332.9,473L342.2,475L351.6,479L373,490.2L399.7,497L430,506.1L438,507.5L442,507.3L446,505L447.9,501L447.5,496L445.1,491L439,482.9L432,475.1L426.1,466L407.5,449L396,440L384.2,426L380.3,418L378,409L376.1,395L376.8,384L378.8,371L384,352L388,345L394,336.4L408.6,324L410.4,320L410.1,317L407.3,313L404,310.3L388,302.3L379,300.3L361,299.8L356.1,298L354,296.2L353.9,295L356.3,289L361.2,285L370.6,281L378,279.1L385,278.5L411,273.1L418,270.5L422,267.5L424.4,264L426.4,257L426.5,246L424.9,233L425,227.6L426,223.6L427.1,221L429.9,218L433,215.8L437,214L440,214.1L452,218.4L457,219.3L466,218.5L475,213.8L478,213L488,215.6L508,218.2L512,218.2L539,214.2L569,210.3L577,209.8L594,206.7L600,204.6L612,198.3L622,189.2L628.4,181L633.5,172L639,156.7L643,147.5L669.3,96L677.2,79L682.4,64L683.7,57ZM511.5,85L517,84.5L521,85.7L523.9,89L526.7,94L527.8,99L527.7,102L525,106.9L521,111.1L518,112.4L511,109.6L507,108.9L504,109.2L501,110.6L499,112.6L496,117L489.8,121L487.7,123L486.2,127L487.2,135L486.6,137L484,139.8L480,142.1L472,143.3L467,143.1L459,139.8L454,135.2L452,134.7L450,135.1L449,134.3L449,131L450.9,127L453,125L459.3,121L460.8,119L461.3,117L475.9,114L477,113L478.7,110L483.2,107L486,102L486,100L484.3,95L485,93.5L491,94.3L496,93.3L499,91.9L506,86.9ZM468,124.8L466,126L464.9,128L466,132L465.5,135L466,136.1L468,137.6L470,138L473,137.5L475.5,135L475.3,133L474,130.3L474.4,127L473.9,126L472,124.7ZM155,534L160,533.8L167,534.9L188,539.5L209.3,543L217.1,545L219,546L220,547L220,548L219.4,550L128.3,550L128.3,547L129.2,545L136,539.8L144,535.8Z"/>
<path fill="#ff0000" d="M726.1,79L730,78.7L730,550L452.2,550L452.7,548L454.4,545L463,535L469,526.8L470.2,524L469,519.4L461.3,504L459,500.2L453,493.2L444,485L437,477L428.9,466L410,448.7L397,439.1L390.5,432L385,425L383.3,422L381.2,417L379.1,408L377.5,395L378.1,383L379.8,372L385.3,352L389.4,345L395.6,337L399,334L408,328L412,324.3L413.5,321L413.1,317L410.4,313L405.3,309L389,301L384,299.5L367.1,298L362,296.6L360.1,295L359,293L358.9,291L359.7,289L361.7,287L366,284.6L374,281.6L413,275.3L419,273.5L422.9,271L426.8,266L429,259L429.2,247L428,236L428.7,230L431.3,225L433,223.5L436,222L441,221.9L453,226.6L463,228L469,227.7L480,226.2L509,224.4L548,216.6L564,214.4L578,213.1L594,210.6L601,208.6L610,204.2L620,196.8L625,191.7L629,186.7L635.2,177L643.5,159L650,148.4L663,131L679,112.5L693,98.6L705,88.8L716,82.2L721,80.2ZM518.1,91L520,90.9L521,92L521.1,93L520.4,94L519,94.4L517.7,94L516.9,93ZM509.9,93L511.2,93L513,94L513.1,95L512.4,96L511,96.6L509,95.8L508.6,94ZM327.5,478L331,477.2L334,477.3L343,479.3L355,484.4L372,493L416,505.3L427,509.5L433,512.6L437,515.8L439.7,519L444.9,531L445,534L444.3,537L439,545L438.8,547L439.4,550L308.1,550L307.9,538L307.1,532L306.3,515L306.5,509L307.8,501L310,495L313,490.1L321,481.2ZM149.4,536L160,535.2L206.1,544L208.8,545L209.8,546L211.4,550L130.4,550L130.6,546L133.4,543L141,538.5L145,536.9Z"/>
<path fill="#f20000" d="M726.6,110L730,109.9L730,550L457.3,550L458.8,545L472.6,525L473.5,522L473.5,519L470.9,512L461.3,498L454,489.9L448.4,486L443,480.6L438.8,476L434.2,469L430.8,465L411,447.3L398.8,439L391,431.1L385.6,424L384,421L382.4,417L380.5,408L379.1,395L379.4,383L380.9,372L386.7,352L391.7,344L398,336.7L401,334.4L411.9,328L415,325.4L416.5,322L416,318L414.4,315L411.8,312L403,305.7L385,297.6L374,296.8L366,295L362,292.3L361.5,291L362,289.5L367.1,286L375,282.9L399,279.3L417,277.2L421,275.9L425,273.2L429,268.1L431.6,261L432.3,251L431.4,239L431.6,235L433,229.8L435,227.5L437,226.6L440,227L451,234.1L458,236.5L468,237.3L484,236.1L496,234L545,220.4L568,216.8L574,216.8L592,214.6L599,213.1L608,209.3L613,206.6L619.4,202L626,196.2L633.8,186L639.2,177L647,162L657,150.3L669,139.3L686,126.3L700,117.9L707,114.7L714,112.3ZM326,482L332,481.1L343,483.2L353.4,487L374,497.3L414,507.6L422,510.4L428.9,514L432.8,517L435.4,520L438,527L438,535L435.3,545L435.1,550L309.5,550L308,515L308.1,509L309.2,502L311.6,495L314,491L321,484.4ZM150.3,537L159,536.4L202,544.7L206.4,546L207,547L206.6,550L132.7,550L132.4,546L136.6,542L145,538.1Z"/>
<path fill="#e50000" d="M718.9,130L730,129.1L730,550L460.7,550L461.1,547L462.6,544L477.6,523L478.3,517L476.1,511L467,500L455,486.7L450,483.8L446.2,480L441,474.2L436.1,467L432,462.7L414,447L401.2,439L392.4,431L386,422.7L383.9,418L382.7,413L380.6,399L380.9,383L381.9,373L388,352.2L393,344.5L400,336.9L407,333.1L416.6,329L419.3,327L420.7,324L419.7,320L418,316L415,312.3L405.6,305L387.5,296L384,295.3L375,294.9L370,293.5L367.5,291L367.7,289L371,286.2L377,284.3L400,281.6L419,280.4L424,278.6L428,275.9L431.8,271L438,256.3L440,252.7L443,249.8L446,248.4L450,247.9L470,247.9L490,245.6L496,243.5L522,232.1L543,225.1L563,221L576,220.4L594,218.3L600.3,217L610,213L615.5,210L623,204.8L629,199.2L638,187L651.5,165L656,159.8L661,155.3L675,146.8L693,137.8L706,133ZM327.7,485L332,484.7L344,487.3L353,490.6L371.5,500L409,508.5L416,510.8L422,513.8L426.5,517L429.5,520L431.3,523L432.4,526L432.9,534L431.1,546L431.3,550L311,550L309.5,521L309.8,509L311.1,502L313.1,496L316.3,491L322,486.7ZM152,538L159,537.9L165.7,539L176,541.9L182,542.2L191,543.8L196.8,546L198.5,548L199.1,550L135.4,550L135.4,546L137.7,543L143.7,540Z"/>
<path fill="#d90000" d="M719.5,145L730,144.4L730,550L463.6,550L463.3,547L464.7,544L476.1,530L480.9,523L482.4,517L481.9,514L480.6,511L476.5,506L456,484.9L452,482L448,478.1L438.8,466L433,460L427,455.3L423,451L419.4,448L412,442.7L403,438.1L393,430L386.9,422L385.2,418L384,413L381.8,397L383,374L385.3,365L389.6,352L396.8,342L401,337.8L407,334.8L417.7,332L421.3,330L423,328L423.7,326L423.4,322L419.1,314L415,309.5L409,304.5L402,300.9L397,297.4L392,295L387,293.8L373,292.5L370.6,291L370.6,289L373.9,287L378,286.2L400,284.9L418,284.6L423,283.7L427,281.8L431,278.5L434.7,274L441.9,263L444,261L447,259.5L451,258.9L468,259.9L480,258L492,253.7L522,238.2L533.6,233L542,230L551,227.6L564,225.1L579,224L595,222L602,220.2L609,217.7L622,210.8L626,207.8L631,203.1L650.6,177L657.4,166L663,160.4L666,159.1L675,156.8L700,148.8L710,146.4ZM325.8,488L334,488.3L344,490.5L352,493.3L369,501.6L402,508.3L412,511.2L417.5,514L423.5,519L425.8,522L427.2,525L428,529L428.4,537L427.9,550L312.6,550L311.9,545L311.8,534L310.9,522L311.6,509L312.6,503L314.8,497L317.9,492L321,489.7ZM149.2,540L156,539.5L162.7,540L168,541.3L176,544.3L182,543.5L190.1,545L192.8,546L193.9,547L194.3,550L138.8,550L138.1,546L139.6,544L143.1,542Z"/>
<path fill="#cc0000" d="M721.3,158L730,157.7L730,550L471.5,550L470.9,545L471.7,542L487,521L489.7,515L489.7,513L489.2,512L483,505.5L465,489.7L451.7,476L448.7,471L446,468.8L442.3,464L434.8,456L429,452.2L424,446.6L414,439.8L405.2,436L395.5,429L389,421.1L386,413.1L383.2,396L384.5,375L387.8,362L391.8,351L399,341.7L403.6,338L407,336.6L412,335.7L418,335.9L422,335.4L428,333L428.6,332L429,327L428.4,323L423.2,314L419.2,309L415.5,303L414.4,299L414.5,297L415.5,295L418,292.9L426,289.8L430,287.6L433,285L442,275.4L446,272.7L449,272.6L454,274.4L475,274.7L477.3,274L491,267.2L502,258.2L511,252L526.3,243L542,235.3L553,232.2L569,229.1L581,228.6L596,226.5L607,223.3L615,219.9L626,213.9L635.4,205L650,186.2L657.4,179L662,170.2L665,167.6L675,166.5L705,159.9ZM324.3,491L328,490.6L340,493L349,496.1L367,504.3L401,510.1L407,512L413.1,515L418,519L420.9,523L422.2,526L424,544L422.3,550L314.5,550L313.4,544L313.2,528L312.6,523L313.7,509L315,502.5L318,495.8L321,492.3Z"/>
<path fill="#bf0000" d="M707.1,171L717,170.1L730,170L730,550L489.4,550L488.5,536L488.9,530L490.6,524L494.7,515L495.6,509L495.2,505L493.9,500L489.1,491L485,486L479,480L448.1,453L432.1,441L410.3,427L395,415.6L391,411.5L387.2,405L385.2,399L384.6,395L386.4,377L390.4,360L393.9,350L400,342.8L403,340.4L406,339L409,338.5L412,338.8L424,343.4L427,342.6L430,340L432.6,336L433.5,332L433,327L430.7,316L431.1,311L434,305.6L440,300.9L451,295.9L476,287.5L488,281.8L499,274.8L527,253.4L534,249.1L541,245.7L549,242.8L558,240.7L581,238.1L592,236.2L599,234.3L606,231.5L612,228.1L632.5,214L640.5,207L657,190L669,180.3L675,177.3L682,175.2ZM640,535.8L637,537.4L636.1,539L635.9,541L636.6,543L638,544.9L640,546.2L642,546.5L644,545.4L644.9,544L645.4,540L643.5,537L642,536.1ZM324.8,494L328,493.7L333,495.3L338,498L348,504.9L356,508.4L365,510.2L379,511L388,512.1L397,514.2L403,517L406.8,521L409,527L409.7,534L409.1,550L316.7,550L315.3,543L315.1,524L316.4,511L317.8,505L319.7,500L322.2,496Z"/>
<path fill="#b30000" d="M708.3,181L712,180.6L719,181.1L730,182.9L730,306L727,305L723,301.6L714,289.2L710,285L705,281.5L700,279.7L696,279.4L693,279.9L690,281.1L687,283.2L684.5,286L683,289L682.2,292L682,296L683.6,302L688.1,310L694,317.1L700,321.5L706,323.9L712,324.6L718,324.1L730,321.7L730,483.5L703,484.5L694,485.3L672,489.6L654,494.9L644,497L636,497.4L613,496.3L604,496.5L592.1,498L584.4,501L578.9,505L574.8,510L573,515L574.1,519L578.7,524L587.8,531L594,534.7L605,539.9L608,541.8L610.7,545L611.7,550L554.3,550L555.2,543L560.7,527L561.6,521L560.2,518L557.7,516L554,514.3L549,513.1L541,513.3L533,515.9L526.8,520L516,529.8L511,532.6L504,534.2L500,534.2L497,533.6L495.3,532L494.3,528L494.4,526L495.7,522L497,519.9L503.3,514L508.4,508L510.7,504L513,498L513.9,493L513.9,489L513.1,485L511.4,481L508.5,477L505,473.8L483,461.5L466,448.9L453,441.7L434,430L422,423.8L406,411L403,409.8L396,408.9L391,405L388,400.8L387,397.9L386.5,394L389.9,372L394,355L395.8,350L400.2,345L403,342.6L406.4,341L410,341L412.9,343L414.9,346L417.1,354L419.1,357L421,358.1L423,358.5L426,358.1L429,356.9L433,354L435.7,351L437.7,347L438.9,343L439.7,336L439.5,331L438.4,328L436.6,325L435.2,319L435.4,315L437,312.8L439,312.3L445,314L449,314.1L457,311.9L466,311.1L471,309.3L479,304.4L488.8,296L505,285.5L531.5,261L539,255.5L547,252L557,249.8L566,248.6L575,249.4L580,249.2L589,246.6L598,245.2L603,243.4L608,241L612.4,238L615,235.5L618.6,230L621.5,227L644,211.2L653,202.8L669,189.9L675,186.8L684,183.9L692,182.9L698,184.2L701,184.2ZM325.4,497L327,496.3L328,496.6L333,500L337.1,505L338,510L339.2,513L341,515.1L344,516.8L358,518.4L364,517L369,517.1L376,515.8L385,516L393.2,518L400.4,521L401.5,523L401.1,526L397.1,536L393,544L391.6,550L321.7,550L321,548.7L318.9,547L317.9,545L317.7,526L318.4,517L320,509.5L322,502.9Z"/>
<path fill="#a60000" d="M688,204L691,203.6L693,205L693.6,208L692,210.2L689,210.7L686.7,209L686.4,206ZM649.1,213L651,212.6L653.1,214L653.4,216L652,218L650,218.5L647.8,217L647.6,215ZM573.6,266L586,265.3L595,265.8L603,267.8L609.2,271L612.8,274L616,277.5L629.1,295L637,307.9L645,316.5L646.4,321L645,327.1L635.4,349L632.4,354L629,358L625,361.1L620,363.8L597,372.5L588,376.6L579,382L564,392.5L555,397.2L547,400L527.3,405L503,412.4L493,414.4L484,415L476,414.7L459,412.8L452,412.7L445,413.9L433,417.3L428,417.9L425,417.7L422,416.6L417.4,413L415.4,410L414.5,407L414,402L414.4,397L415.8,392L417.9,387L420.3,383L422.8,380L427,376.9L436,372.7L441,369.4L446,364.7L452.1,356L455,352.9L459,350.2L471,343.9L481,335.8L497,319.3L514,299.2L521.9,288L526,284L530,281.5L553,270L562,267.5ZM404.8,345L408,344.4L409.2,345L410.6,347L410.5,350L408,352.4L405,352.5L403,350.4L402.7,348ZM322.8,516L324,515.3L326,515.3L327,516.1L328,518L327.8,522L327,523.6L325,524.9L322.4,524L321,521.1L321.3,518ZM347.7,531L350,530L352,530.2L354,531.2L355.5,533L356,535L355.8,537L354.8,539L353,540.6L351,541.2L349,540.8L347,539.4L346.1,538L345.5,536L345.7,534Z"/>
<path fill="#990000" d="M583.8,281L590,281.2L595,282.9L599.1,286L601.1,290L601,293L598,297.6L596.4,302L600.1,317L601.3,328L601.2,337L598.5,344L593,351L583.9,359L566,371.7L553,379.7L544,383.4L537,384.8L531,384.4L525,382L518.9,377L513.8,370L511.6,365L509.2,357L507,352.4L507,348.9L508.6,347L514,344.3L517.4,341L536,315L554.1,297L555.8,294L556.7,290L558,288.2L560,287.6L565,288.2L567,287.8L578,282.5ZM478.9,382L481.4,382L483.1,384L482.9,386L481,387.6L479,387.5L477.4,386L477.2,384ZM421.3,405L423,404.3L425,404.3L427,405.3L428,406.5L428.5,410L427.6,412L426,413.3L424,413.9L422,413.6L419.3,411L419.1,408L420,406.2Z"/>
<path fill="#8c0000" d="M587.8,291L590,291.7L591,293L591,295L589.8,296L587.9,296L585.9,294L586,292ZM555.5,334L558,333.3L561,333.3L563,334L565.5,336L566.8,338L567.3,341L566.4,344L565,346L563,347.6L560,349L553,350.1L547,349.7L543,347.7L541.6,346L541,344L542,340.9L545,338.5Z"/>
</g>
<g clip-path="url(#sea)" fill="none" stroke="#000" stroke-width="1" stroke-linejoin="round" shape-rendering="crispEdges">
<path d="M379.9,218.5L384.5,218.4L386.1,218.7L387.2,219.3L388.4,221.1L389.3,224.1L389.8,229.7L389.6,233.4L389.3,235L388.2,237.6L387.4,238.6L386.3,239.3L384.8,239.6L382.9,239.8L378.9,239.3L375.8,238L373,235L371.9,232.8L371.6,231.6L371.5,228.9L371.6,227.3L372.7,224.2L373.5,222.7L374.6,221.1L376,219.9L377.8,219.1L379.9,218.5M386.2,206.2L390.1,209.3L392.7,212.1L394.4,215.1L395.8,218.7L397.2,225.2L397.9,232.4L397.8,237.2L396.9,245M393.1,198.5L397.4,199.8L400.6,201.3L403.5,203.4L404.4,204.6L404.8,205.9L404.7,207.3L404,208.9L403.2,212.5L402.9,216.7L403,221.1L404.2,236.3L403.8,245M415.6,189.4L417.6,190.5L419.1,192L420.5,194.3L420.8,195.6L420.7,196.8L420.2,198.1L411.4,212.7L410.1,216L409.6,219.7L409.6,226.2L410.2,233.3L411.1,240.5L411.2,245M417.2,181.9L438.6,186.9L440.9,188L442.1,189.3L442.2,190.9L441,192.8L439.6,194.5L437.9,196L435.9,197.2L429.2,200.7L425.3,203.1L423.6,204.5L420.8,207.8L418.8,211.6L416.9,217.2L416.2,221.2L415.8,225.5L416.1,232.1L418.1,245M437.5,177.5L444.2,176.4L451.2,176.2L453.6,176.5L455.8,177L457.8,177.8L459.7,178.9L462.7,181.6L464.8,184.9L465.4,186.8L465.6,188.7L465.5,190.8L465.1,192.9L464.4,194.9L462.5,198.1L461.3,199.3L457.9,201.4L455.9,202.2L441.2,205.9L433.8,208.2L429.6,210L427.9,211.1L425.3,213.4L424.3,214.7L422.8,217.7L421.9,221L421.5,224.7L421.4,232.9L422.5,245M470,221.2L461.6,222.4L457.8,222.5L455.9,222.3L452.2,221.1L441.6,215.7L439.4,215L437.4,214.8L435.5,215.2L433.8,216.1L430.8,218L428.5,219.8L426.8,222.1L425.7,225.1L425.1,228.7L425.1,235.1L425.7,239.5L426.9,245M457.5,243.8L452.8,242.2L449.3,240.2L446.1,237.3L439.9,230.3L438.5,229.1L437.3,228.7L436.3,228.9L435.6,229.8L434.3,232.1L433.9,233.6L433.3,238.5L433.8,245M460.6,76.9L460.9,81.7L460.3,85.8L461.6,90.9L461.2,93.8M467.5,77.2L465.9,80.1L465.3,82.7L465.2,84L465.6,86.7L467,91.3L466.8,93.1L465.7,94.5L464.9,95.2L461.2,96.9M475.6,81.2L471.9,83L471.2,83.7L470.3,85.5L470.3,87.4L471.9,91.1L472.3,93L471.8,94.6L470.2,96L465.7,98.5L463,99.5L458.1,100.6M484.4,93.1L485.1,94.7L486.1,96L487.6,97.4L488.6,97.9L491.1,97.9L494.3,97.2L499.3,96.5L502.5,96.7L505.4,97.6L506.8,98.5L509.4,100.9L516.4,109.5L518.2,110.3L520.1,110L522.2,108.7L524.4,106.3L526,104L526.8,101.8L527,99.6L525.7,95.5L524.7,93.4L520,86.2M480,113.8L479.6,111.4L479.7,110.6L480.6,109.1L483.4,107.1L486,105.6L487.2,105.2L488.3,105.3L489.2,105.8L490.5,107.7L492.3,113.3L494.4,115.6M447.2,117.5L452.1,116.6L456.2,116.2L474.4,116.5M448.8,136.2L448.4,131.8L449,129.1L450.5,126.4L452.7,124.2L454.1,123.3L455.7,122.5L459.5,121.4L466.2,120.6L474.4,120M460.3,133.8L464.3,132.4L466.6,132L472,131.5L476.7,131.6L478.6,131.9L481.5,132.9L483.7,134.3L484.4,135L484.7,135.8L484.6,136.6L484,137.4L481.6,138.9L480.1,139.4L476.6,139.9L470.5,139.9L462.4,138.9L460.7,138.6L458.3,137.7L457.6,137.2L457.1,135.4L460.3,133.8M536.9,107.5L533.6,110.9L528.6,119L525.9,122.4L524.3,124.1L520.5,127.3L507.5,136.6L500,141.5M536.9,116.2L534.5,121L532.3,124.7L524.4,136L521.4,139.7L512.7,149L508.6,154.7L506.8,158.4L505.7,162.4L505.2,170M540,120L536.1,127.7L533.5,132.1L530.7,136.3L524.6,144.2L521.9,148.8L519.6,153.6L517.8,157.8L516.7,161.6L516.5,165.3L516.9,170M543.8,120L540.4,127.7L538.1,132.1L534.3,138.4L530.2,144.1L527.4,149.7L525.8,155.8L525.3,160.1L525.5,164.5L526.2,170M546.9,125L544.1,130.5L539.5,137.8L536.4,143.4L535,146.9L534.1,150.1L533.6,155.8L534,160L535.2,164L537.5,168.8M549.4,129.4L544.8,137.8L542.4,143.2L541,148L540.6,151.1L540.8,154.1L541.8,156.9L544.5,160.4L546.9,162.4L548.2,162.9L549.6,163.1L551.1,162.8L555.5,161.1L558.1,160.4L561.1,159.1L566.5,155.6L571.4,151.9L573.6,149.6L574.2,148.6L575,146.2M556.9,140.6L553.3,143L552.4,143.9L552,144.9L552.2,145.8L552.8,146.7L554.6,148.1L555.7,148.6L558.1,149L559.1,148.7L560,148.2L561.9,146.2M558.8,169.4L564.3,166.5L567.8,164.3L577.2,158.1L580.2,155.6L581.4,154.3L583.2,151.8L584.2,149.3L585,146.2M596.2,155L590.4,160.6L585.8,164.3L581.1,167.4L576.2,170M492.5,170L498.1,192.2L499.4,195.7L501.1,198.9L503.4,201.5L506.4,203.6L509.6,205L515,206.5M539,206.2L550.8,204.9L565.2,202.6L570,202.1M505.6,170L506.9,174.5L508.5,177.8L512.1,183.3L515.1,186.8L518.5,189.8L522.2,192.2L525.9,193.9L532.5,195.6M546,195L559.1,191.6L570,189.4M516.2,170L518.5,174.4L520.2,176.9L522.8,180.3L525.6,183.1M550,184.8L570,179.4M526.2,170L528.6,173.3L531.9,175.7L536.1,177.3L541,177.9L544.7,177.7L551.2,176.6L559.2,174.4L570,171.2M538.1,170L541,171.6L545.1,172.3L550.3,171.8L554.8,170.6L556.2,170M470,220L474.7,216.5L476.4,215.6L478,215.2L479.4,215.3L481.7,216.6L483.4,217.8L485,219.4M509,220.6L534.1,216L570,211.2M488.8,243.1L512.2,233.1L524.7,228.6L540.3,223.9L546.6,222.3L555.9,220.3L570,218.1M521.2,245L529,240.6L536.2,236.9L543.8,233.8L551.2,231.7L570,227.8M576,170.6L570,172M604,156L602.8,161L601,164.8L598.2,168.4L596.6,170L593,172.9L588.9,175.2L584.2,176.8L577.1,178.1L570,179M614,163L612.1,168.6L609.9,172.9L608.4,175L604.7,178.9L600.2,182.2L597.8,183.8L592.4,186.3L586.5,188.2L580.5,189.6L570,191M627,163L624.2,171.7L623.1,174.1L620.2,178.6L618.5,180.9L614.2,185.4L609,189.8L602.8,193.6L599.2,195.4L592.2,198.1L588.8,199.1L582,200.5L570,202.4M638,163L636.1,168.6L634.1,173.3L631.2,178.2L628.1,183.1L624.6,187.6L620.6,192.1L615.8,196.6L613,198.8L610,200.8L603.2,204.4L595.9,207.1L592,208.1L584.2,209.5L570,211.6M649,163L646.2,169.3L643.8,173.8L636.2,186.2L632.9,191.2L629,196.2L626.8,198.7L624.2,201.1L618.5,205.6L612.1,209.7L608.8,211.5L601.6,214.5L597.9,215.6L594,216.5L586.1,217.6L570,219M665.6,163L662.1,167.4L660.9,169.2L659.2,173L658.8,175L657.9,176.9L656.6,178.8L655,180.6L651.1,184.2L647.4,188.4L638.6,200.2L634.6,205.2L629.8,210.2L627,212.6L624,214.7L620.8,216.6L613.6,220L606,222.9L598.1,225.2L590.8,226.6L580.6,227.6L570,228.4M726,186L718.9,184.3L708,183M693,185L685.2,186.3L679,188L675,189.6L671,191.5L667,194.1L653.1,205.2L644.5,212.9L637.2,218.1L627.5,224.2L622.2,228.1L621,229.6L620,231.2L618.8,235L617.9,236.9L616.6,238.6L615,240.2L613,241.8L608.6,244.6L603.8,247.1L601.1,248.1L598.2,248.8L595.1,249.2L587,249.6M726,228L718.9,230.5L714.2,231.4L704.2,232.6L696.8,233.9L691.8,235.1L686.8,237L681.8,239.8L676.8,243.1L669.1,249.1L656,260M306.2,250L312.8,253.4L319.2,258L322.3,259.7L325.7,260.7L329.9,261L332.4,260.8L337.2,260.1L341.7,258.7L345.9,256.5L347.8,255.1L352.7,250.8L354.8,248.5L355.5,246.8L355.3,246.2L353.8,245M305.4,249.8L305.9,253.4L306.4,254.8L307.2,256.1L308.3,257.3L315.8,263.2L318.4,265.8L320.5,268.5L322.7,273.2L323.7,276.8L324.5,281.2L328.2,309.2L329.4,320M295.2,259L300.6,258.4L302.6,258.5L304.5,258.9L306.4,259.5L308.1,260.5L311.2,262.8L314.1,265.8L316.6,269.1L318.6,272.8L320.8,279.1L322.3,286.3L324.6,304.1L326,320M380,264.4L361.6,265.8L355.4,266.5L341.8,269.8L337.4,271.3L335.4,272.4L334,273.6L332.9,275.2L332.2,277.2L331.7,279.8L331.3,284.8L331.3,300M380,268.1L371.6,269.5L358.4,272.2L350.5,275.2L345.7,277.9L343.6,279.7L341.7,281.8L340.2,284.1L339.1,286.3L338.1,290.2L336.9,300M380,273L370.2,274.5L362.8,276.2L358,278.1L353,280.9L348.2,284.7L346.6,286.2L345.5,287.8L344.6,290.6L343.3,297M380,276L374.9,276.6L368.8,278.2L362.2,280.6L357.7,282.9L354.1,285.3L351.6,287.8L350.1,290.7L349.7,292L349.6,294M380,279L370.2,281.4L366.7,282.8L362.2,284.9L359.4,286.6L356.8,288.9L355.7,290.6L355.3,292.5M380,282.8L377.3,283.1L375.3,283.7L370.8,285.3L367.6,286.8L362.5,290.1L362.4,290.9L363.1,291.8M380,287.6L377.3,287.8L374.2,288.6L371.9,289.6L371.5,290.1L372.1,290.6L373.8,290.9L380,291.2M399.8,255.8L393.9,258.1L387.1,261.2L380,263.6M407.3,255.8L402.1,259.8L393.8,264.4L387.8,266.7L380,268.4M415.5,256.5L412.8,259.1L410.8,260.6L404.2,264.4L399.8,266.2L380,272.9M420,262.1L414.2,266.3L410.2,268.1L392.1,273.6L384.9,275.4L380,276.2M420,270.8L411.5,273.6L404,274.8L385.3,278.8L382.5,279.3L380,279.4M420,279L405.9,279.8L398.4,280.4L390.9,281.2L382.5,282.7L380,282.9M420,289.5L413,288.2L410.2,288L399.8,287.7L391.1,288.2L384.4,288.4L381.4,288.3L380,287.8M380,291.2L390.5,292.1L393.1,292.5L395.5,293.2L398.6,294.7L400.2,295.8L401.4,297.1L403.1,300M378,296.3L383.2,296.3L386.5,296.6L387.7,297L389.4,297.9L392.3,300M370,245.6L378.9,249.7L382,250.4L385.1,250.6L388.3,250.1L391.4,249L394,247.7L397,245M403.8,245L403.2,248.1L402.3,250.8L400,255.8M411,245L410.4,248.5L409.5,251.2L407.2,255.8M418.1,245L416.9,251.8L415.5,256.5M422.5,245L421.5,255.6L420,262.1M426.9,245L427,253.4L426.8,257.2L426.2,260.7L425.2,263.9L423.7,266.7L420,270.8M433.8,245L433.9,251.6L433.7,257.9L432.6,264.1L431.4,267.8L429.6,271.1L427.3,274.1L424.3,276.5L420,279M454.4,274.4L450.1,267.6L448.5,266L447,265.4L445.6,265.9L436.6,278.4L433.6,282.2L429.8,286.2L427.7,287.6L426.3,288.2L420,289.5M521.9,245L510.3,251.5L506.6,253.9L499.3,259.4L489.3,267.5L486.4,269L480.2,271.8L475,275M570,250.6L558.5,252.2L550.3,253.7L545,255.4L542.5,256.5L538,259.1L535.9,260.7L530.3,266L519.3,277L513.3,283.5L508.6,287.9L502.3,292.8L498.5,295.1L493.8,297.5L491.6,298.9L489.9,300.4L488.6,301.9L486.5,305.3L483.9,308.3L475.7,315.2L471.2,320M656,260L641.8,268.8L637.7,271.8L634.9,274.8L633.1,277.8L632.4,280.8L632.6,282.4L633.4,284.1L634.6,286L638.4,289.9L643.1,293.2L651.2,298.1L656.2,302L658.8,303.5L661.2,304.6L663.8,305.2L666.2,305.4L671.1,306.3L675.6,308.1L679.4,310.6L682.1,313.6L683,315.5L683.6,317.9L683.8,320.5L683.6,326.5L682.6,335.5L681.9,338.4L681,341.1L679.8,343.8L676.6,348.8L671,356.2L667,360.9L663,365L659,368.6L655,371.8L651.6,374L647.9,375.9L647.3,376.6L647,377.5L647,380M582.6,288.9L584.4,288.1L586.2,287.8L588.2,287.8L590.4,288.1L592.6,288.9L594.3,290L595.4,291.5L595.8,293.4L595.8,295.6L595.3,297.4L594.6,298.5L593.5,299.2L592.1,299.4L590.7,299.2L589.4,298.7L588.1,297.9L581.9,291.9L581.4,290.8L581.6,289.8L582.6,288.9M570,330.4L588.2,333L589.9,333.6L590.5,334.5L590.3,335.6L589.2,337L578.2,349.4L575.2,352.2L570,355.6M725,270L718.1,272.5L716.6,273.6L716.2,274.7L717,275.9L719,277.1L720.6,278.8L721.9,280.8L722.8,283.1L724.2,289.7L724.6,290.8L725.6,292M327.5,320L327.9,326.6L327.7,330.3L325.7,341.2L324.2,345.3L323.1,346.9L320.7,349.1L319.6,349.9L316.7,351.3L315.7,352.1L313.9,354.3L308,362.8L305.1,366.6L302,370.1L297.3,374.3L296.2,375.8L295.6,377.5L295.5,379.5L295.8,381.7L295.5,383.7L294.7,385.6L293.4,387.3L291.6,388.9L289,391.5L288.3,392.6L287.5,395M333.1,381.2L325.1,380.6L321.4,380.1L307.7,377.4L307,376.8L307,376.1L307.7,375.2L310.3,373L311.2,371.8L311.9,370.6L314.7,364L315.4,363.1L316.3,362.6L317.2,362.6L319.6,363.5L322.3,364.3L325.4,364.7L327,364.6L328.6,364.3L339.1,361L347.6,359.9L349.6,359.5L353.4,358.1L355,357.1L356.2,356L357.2,354.8L361.1,346.6L363.9,341.4L366.7,337L370,332.5M356.9,378.8L358.1,395M370,357.5L367.6,360.6L366.9,362L366,365.3L365.8,371.4L366,382.2L365.6,395M370.5,307.4L374.3,309L377.7,309.8L379.4,310.9L384.9,315.8L385.6,316.8L386.4,319.3L386.6,321.8L386.4,323L385.6,325.2L380.6,333.5L377.3,340M378,306.3L382.6,307.4L385.3,308.9L387.9,310.9L394.1,315L395.9,316.9L396.7,318.9L396.4,321.1L395.4,323.4L385.4,335.7L382.5,340M378.4,303.3L381.9,303.7L384.8,304.4L387.8,305.4L390.6,306.9L400.9,313.5L402.9,315.4L404,317.4L404.2,318.5L403.8,320.7L402.9,323L401.5,325.2L392.9,333.4L389.2,337.8L387.8,340M378.4,300.3L382.8,300.7L386.2,301.4L389.2,302.4L393.8,304.4L402.7,308.9L406.3,311.2L409.4,314L411.1,316.3L411.5,317.6L411.5,320.6L410.7,323.1L409.9,324.2L406.6,327L396.4,334.5L393.1,338L392.3,340M386.3,296.5L392.3,299.8L402.7,304.5L405.5,306.2L412,310.9L414.4,312.9L416.4,315.1L418,317.9L419.2,321.5L419.4,323.1L419.3,324.4L418.9,325.4L417.2,326.9L414.8,328.4L401.8,335.2L399.4,336.8L396,340M399,295L405.1,299.6L410.4,302.4L412.4,303.9L423.3,315.9L427.9,322.1L428.9,324.1L429.3,327.5L429.4,333.6M414,335.1L408.3,335.9L405.6,336.6L402.7,338.1L400.5,340M480,312.3L478.1,313.2L476.8,314.3L473.7,317.9L471.3,320L468.4,321.7L465.2,322.9L463.6,324L462.8,325.4L460.9,331.3L459.3,333.4L458.3,333.9L457.4,333.5L457,333L454.6,327.1L453.1,325.1L450.9,323.9L444.7,322.4L443.2,321.7L441.7,320.1L440.6,317.8L438.7,314.9L438.1,314.3L437.5,314.1L436.9,314.2L436.2,315.5L436,316.2L436,318.2L436.4,320.5L437.5,324.1L438.6,325.4L439.3,325.7L440.5,326.7L441.8,329.1L442.3,332.3L442.5,340M456.8,316.4L457.4,315.8L458.4,316L459.2,316.9L458.9,318L457.9,318.8L457.4,318.8L456.8,318L456.8,316.4M375.6,320L375.6,323.1L374.8,325.7L370,332.5M377.2,340L374.7,345.3L371.7,349.3L371.1,351.3L370,357.5M382.5,340L377.9,351.8L372.1,371L371,376.2L370.3,381.4L369.4,395M387.8,340L381.9,349.8L380.2,354.2L377.8,362.6L376.4,368.3L375.4,373.9L373.5,395M392.2,340L388.3,345.2L385.6,349.7L383.8,354.2L382,359.8L379.8,368.3L378.7,373.9L377.4,382.4L376.1,395M396,340L389.8,347.9L388.7,349.7L386.7,354.2L384.9,359.8L382.5,368.3L381.4,373.9L380.4,382.4L379.5,395M400.5,340L393.8,347.9L392.6,349.7L390.2,354.2L387.2,362.6L385.6,368.3L384.5,373.9L383.2,395M386.2,395L389,379.6L394.4,354.2L395,351.9L396.3,348.8L398.7,346.4L402,343.7L404.4,342.2L406.8,341.2L408.9,341.1L409.8,341.4L411.6,343.1L412.4,344.5L413.7,347.8L413.9,350.7L413.6,351.9L412.4,354.7L408.5,361L405.6,367.5M442.5,340L442.3,344.5L441.6,347.8L440.9,349.7L440,351.4L438.8,353L437.2,354.4L420.6,365.6L418.1,366.9L415,368.1M356.9,316L361.2,315.4L365,315.2L369.2,315.4L371.1,315.8L372.5,316.4L373.7,317.2L375.6,320M356.9,311L370.5,307.4M331.2,300L333.4,309.1L334.5,311.6L337,316M544.4,330.6L541.7,333.4L539.8,335.9L538.4,338.9L537.9,341.6L538.3,344L538.9,345.1L541,347.5L542.5,348.7L543.5,350L543.9,351.2L543.7,352.5L542.3,355L540,360.5L535.9,366.7L535.1,368.3L533.9,372.8L533.4,373.9L531.9,375.8L531.9,376.3L532.2,376.7L534.6,377.4L536.9,377.3L538.2,377L539.4,376.4L543.2,373.8L544.4,373.2L548.1,372.2L549.2,371.6L553.5,368.2L570,356.2M647,380L647.8,382.6L647.6,384.1L647,386M633,387.6L614.5,386.4L608.9,385.6L603.8,384.5L601.2,384.3L598.8,384.4L596.2,384.9L591.4,386.7L585,390.1L583.2,391.6L581.8,393.2L578.2,398.9L576.8,400.6L575,402.2L570,406M678.4,453.6L678.2,448.8L677.7,446.9L676.9,445L671.6,437L668.2,431L666.8,429L663,425L658.6,421.2L653.8,417.6L648.8,414.5L643.8,411.9L641.1,410.9L638.4,410.3L635.5,410L632.5,410L630.6,410.3L629.9,410.9L630.2,411.9L634.8,416L644.4,427L647.3,431L649.5,435L650.8,439L651,443L650.7,444.9L650.1,446.6L649.1,448.2L647.9,449.8L643.8,453.5L640.6,455.2L637,456L633,456.2L629,457.1L625.2,458.7L623.8,459.6L621.5,461.5L620.4,462L619.3,462L618.1,461.5L611.9,456.5L610.6,456L609.4,456L608.1,456.5L601.9,461.5L600.6,462.1L599.4,462.2L598.1,461.9L596.9,461.1L592,457.6M607.5,433L608.5,431L609.9,429.4L611.6,428.2L613.8,427.4L616.2,427L618.4,427L620.1,427.5L621.5,428.5L623.4,431.3L624.8,433.9L625.2,435.1L625.2,436.2L624.8,437.2L623.8,438.1L620.6,439.4L618.9,439.6L615,439.4L611.4,438.5L608.2,437.1L607.4,436.1L607.1,434.7L607.5,433M582.4,458L575.5,464.9L573.2,468.2L572.8,469.8L572.8,471.4L573.2,473.1L574.2,475L575.8,477L577.2,478.2L578.8,478.8L580.2,478.5L581.8,477.5L584.4,474.8L587.5,469.5L588.5,468.5L589.5,468L590.5,468L591.4,468.6L592.3,469.9L595.6,479.1L597.5,483.6L598.6,485L599.7,485.5L600.9,485.1L607.1,478.9L608.5,478.4L610,478.6L611.6,479.6L613.4,481.4L615.1,482.6L616.7,483.2L618.2,483.2L621.3,482.1L626.4,479.5L628,479.1L629.5,479.2L630.9,479.9L637.8,486.1L639.4,486.9L641.1,487.1L643,486.9L649.4,484.8L658.3,482.8L663,481M688,456L690.5,452.2L692.1,448.5L693.2,443.8L693.9,438.4L694,432.5L693.7,429.8L693.1,427.2L690,421L689.5,419L689.4,417L689.6,415L690.4,413.7L691.8,413.1L693.8,413.1L698.6,414.8L700.9,415.8L705,418.1L708.6,421.2L713.2,426.8L714.8,428.2L716.2,429.5L719.2,431.4L723.1,433.2L723.9,434.2L724.1,435.8L723.9,437.8L722.8,442.4L722.8,444.1L723.1,445.5L725,448M688,465L693.6,466.8L701.5,468.2L707.9,468.9L714.8,469L717.5,468.6L719.5,467.7L720.8,466.4L721.2,464.6L722.5,462.1L723.3,461.2L725.6,460M676,467L672.2,467.6L669.4,468.4L666.9,469.5L666.2,470.1L666.2,470.7L666.9,471.4L669.6,472.6L676.7,474L679.3,475.1L680.2,475.9L680.8,476.6L680.9,477.4L680.6,478.1L679,480M570,434L571.9,439L572.4,441.1L573,445.8L573,448.2L572.4,452.1L571.9,453.5L570,456M386.4,395L386.7,396.9L387.2,398.5L389.3,402.1L391.7,404.6L395.7,407.4L396.8,407.7L400.2,406.2L404.2,405.3L406.3,405.3L407.9,405.8L409.6,407.6L411.8,411.1L413.6,413.4L419.4,417.4L423.1,421.3L425,422.4M383,395L385.7,417.3L387.1,420.7L390.1,424.9L394.7,430.4L396.4,431.6L399.9,433.4L403.8,436.7L405.1,437.6L407.4,438.6L410,439.3M379.6,395L381.6,409.8L382.9,416L384.1,420.1L385.1,422.2L387.2,425.4L391.7,431.1L400.3,440M376.3,395L378.3,408.4L380,415.8L381.6,420.3L383.3,423.7L385.4,426.9L396.5,440M372.9,395L373.8,401.9L375,408.5L377.2,417L379.2,422.3L381.1,426L383.4,429.2L388.6,435.8L392,439.6M369.5,395L370.1,400.3L371.6,407.8L373.2,413.8L375.2,419.5L377.6,424.8L379.7,428.5L387.5,439.6M366.1,395L366.8,401.8L367.7,407.8L369,413.8L370.2,418.2L373.1,425.5L376.4,431.6L380,437.3L381.1,440M365,422.4L372.6,435.1L374.4,440M381.4,440L389.2,451.6L391.7,455L401,466.1L406.8,472M387.6,442.4L392,446.9L396.8,452.2L402.4,457.9L415.2,469.4L416.4,470.9L417.2,472.4L417.6,475M392.1,440.1L401.7,449.6L411.2,457.9L419.6,466.1L423.5,470.8L425.5,475M396.6,440L400.6,442.6L407.8,448.5L424.7,463.7L427.3,466.5L429.6,469.4L432.3,475M400.4,440L404.4,441.8L412.2,447L420.8,454.5L424.5,458.1L432,464.3L434.8,467.1L436.4,469.2L438.3,472.3L439.4,475M408.3,439L413,440.5L417.9,444L422.6,446.6L424.2,447.7L425.4,449.2L428.3,453.4L429.1,454L431.8,455.1L433.4,456.1L435.4,458.2L437.3,461L441.7,464.9L442.9,466.5L445,470.9M425,422.4L435.3,426.7L442.1,431L446.7,433.5L453,437.5L457.7,440L462.8,442.2L470,444.4M570,406.9L563,410.3L553.6,413.9L549,414.7L542.6,414.9L539.8,415.3L537.4,415.9L535.6,416.9L533.1,419.5L529.4,424.7L527.5,428.7L526.8,430.8L525.9,435.1L525.4,439.5L525.1,443.9L525.3,454.4L524.9,457.7L524.3,459.2L523.6,460.8L521.7,463.9L519.7,466.4L516.9,469.4M555,431.2L553.4,433.6L552.9,434.9L551.7,441.2L551.1,443.4L550.1,445.3L548.9,446.9L542.2,451.9L541.4,453L540.8,454.4L540.5,456.1L540,470M566.9,431.2L570,433.8M570,455L566.9,458.1L565.9,459.7L565.2,461.6L564.8,463.8L564.4,470M470,445L478.6,452.5L481.8,454.9L485.3,457.2L489.1,459.2L494.7,461.9L497.7,463.1L501.2,464M396.2,460L400.6,465.3L406,471.1L406.9,472.5M417.6,475L419.1,477.4L420,479.5L420.4,481.9L420.1,485.2L419.9,486.1L418.6,487.5L417.7,487.9L414.8,488.5M425.5,475L430.4,480.6L435.7,487.4L436.8,489.2L437.5,492.2M432.2,475L436.8,479.4L443.1,486.8L451.9,495.7L455.6,500.1L458.7,505.3L461.8,513.9L463.1,516.8L468.8,525M439.4,475L444.3,479.9L450,486.2M448.1,475L455.6,481.9L465.2,492.2L470,496.2M383.1,476.2L376.9,474.6L370,471.2M400,486.9L384.1,482.8L376.6,480.2L370,477.5M424,497.5L397.9,492L383.9,488.4L374.5,485.5L370,484.4M446.2,525L445,519.6L443.6,516.9L442.6,515.7L440.3,513.4L438.9,512.4L434.2,509.8L421.5,504.7L400.9,497.9L370,490M435,535L435.4,530.3L435.2,526.8L434.5,523.6L433.8,522.1L433,520.7L430.7,518.1L427.9,515.8L424.9,513.9L420.1,511.6L413.4,509.3L370,498.8M423.8,535L424.2,528.6L423.7,525.6L422.6,523.1L421.1,520.6L419.1,518.2L416.4,515.8L413.2,513.7L407.8,511.2L401.2,509.3L386.4,507L376.6,505L370,504.4M370,520L373.9,518.1L375.6,517.5L379.5,516.9L381.7,516.9L386.3,517.5L388.8,518.1L397.1,520.7L399.5,521.7L400.1,522.2L400.4,522.8L400.2,523.5L399.5,524.8L396.7,528.2L393.8,535M307.5,470L307.9,466.9L307.8,464.5L307.3,462.2L306.1,460.5L305.2,459.8L302.9,458.8L293.1,456.2L291.4,455.2L290.8,454L291,453.5L292.2,452.4L294.6,451.4L306.6,447.4L309.8,445.4L310.6,444.6L311.8,442.3L314.4,434.1L315.5,432.5L316,432.1L316.7,432.1L317.6,432.4L318.5,433L320.4,435.2L320.8,436.4L321,437.7L319.8,446M336.9,448.1L339.7,449.8L341.9,450.7L350.4,453.5L361.4,455.7L370,456.9M341.1,419L342.7,418.2L344.2,417.9L345.8,417.9L347.3,418.2L351.8,420.4L354.3,421.9L355.5,422.9L356.5,424L358.2,426.7L361,432.7L361.4,435.2L361.2,436.2L360.7,436.9L359.3,438.2L357.2,438.9L356.1,438.9L354.8,438.5L341.1,429.3L340.1,428.4L338.9,426.5L338.3,423.4L338.5,421.4L339.1,420.5L341.1,419M358.1,395L359.8,403.7L363.7,417.7L365.2,420.7L370,426.9M365.6,395L367.6,405.3L370,413.8M286.2,395L285.8,398.1L285.4,399.2L283.9,400.9L281.9,402.3L280.5,404.4L279.8,406.9L279.7,408.1L280.2,412L279.9,413.4L278.7,416.4L275.9,421.5L275.2,422.2L274.2,422.6L273.1,422.6L270,421.9M270,451.2L273.1,462.2L273.8,465.5L274.4,470M173.8,431.2L178.2,430.6L183.8,429.4M173.8,434L181.3,432.7L186.4,431.3L190.9,429.4L200.6,424.4M173.8,436.5L183.4,434.7L190.5,432.9L194.4,431.3L200.6,427.8M170,442.5L178.4,440.8L185.9,438.4L196.4,433.7L198.7,432.3L200.6,430.6M225.6,428.1L229.8,430.5L240.4,435.7L253,439.8L259.1,442.7L263.1,445L265.4,446.7L268.2,449.4L270,451.9M224,415.6L229.1,414.8L232.1,413.8M224,417.5L232.1,419.4M256.2,424.4L265.5,415.8L270,412.5M180,477.6L176.2,478L173.1,479.1L169.6,481L166.6,483.3L164.2,485.9L162.6,488.9L161.5,492.3L161.3,494.1L161.5,497.9L162,499.8L162.7,501.7L163.7,503.5L164.9,505.1L168.2,508L170,509.3L176,512.5L180,514.2M180,460.2L173.2,462.3L166.8,465.2L162.7,467.8L157.5,472.3L154.6,475.6L143.7,489.9L139.9,496.2L139.2,498.1L138.4,501.3L138.5,502.7L139,504L139.8,505.2L142.1,507.3L143.5,508.2L149.9,511.1L154.8,514.5L157.7,516.3L163.3,518.6L180,523.6M154.8,451.1L158.1,451.7L160.5,452.4L162.8,453.6L163.3,454.4L163.3,455.3L162.8,456.2L161.6,457.3L160,459.7L158.3,463.7L156.3,466.9L151.1,473.6L143.1,482.6L135,488.8L128.3,496L124,499.9L120.6,502.5L117.6,504.5L113.6,506.3M131.1,472.1L131.7,476L131.7,477.5L131,480.6L128.7,485.2L125,491.1L123.3,495.8M145.1,522L154.6,523.5L180,528.7M154.8,527.3L164.6,528.4L180,531.4M154.8,530.8L164.6,531.3L180,534M127.6,546.5L131.5,543.5L142,537.4L145.1,536.2L150.4,535.1L157.4,534.4L162.6,534.6L166.1,535.1L180,537.9M132,546.5L136.7,542.1L139.9,540.3L145.2,538.5L150.5,537.6L156.7,537.4L162.6,537.9L167.9,538.9L180,541.9M139,546.5L142.3,544.2L146.9,542.3L151,541.4L156.1,541L160.7,541.1L166,542L169,543.1L171.4,544.4L172.9,545.4L174,546.5M113.6,546.5L114.2,543.2L114.9,540.6L116.8,536.7L120.5,531.1L121.5,527.3M118.9,546.5L121.2,542.1L123.7,539.1L125.8,537.7L130.3,536M123.3,546.5L126.4,542.8L128.4,541.1L131.1,539.5M104,526.4L106,518.3L107.5,515M180,459.7L187,457.3L191.9,456.3M215.6,456.9L221.9,460.2L227.6,464L233,468.5L236,471.6L238.5,474.8L240.3,478L241.8,481.7L244.8,491.6L245.5,493.4L247.2,496.4L249.3,498.6L252,500.4L253.5,501.1L256.7,501.8L258.3,501.7L261.5,500.8L264.7,499.1L266.2,497.9L269,494.6L270.1,492.5L272,487.7L273.9,479.7L274.4,474.2L274.4,471.4L273.7,463.4L271.8,455M205.6,477.2L210.8,477.3L213.7,477.8L216.4,478.7L218.7,480.2L220.6,482.3L222.6,485.1L225.2,489.8L226.1,492.9L226.3,494.4L226.1,496.8L225.7,497.8L225.2,498.4L224.6,498.6L223.9,498.4L221.5,496.2L219.1,492.9L217,491.4L215.8,490.9L211.9,490.1L210.6,490.1L207.8,490.6L205,491.9L202.4,493.7L200,495.9L197.9,498.5L195.5,502.6L192.9,510.1L191.5,512.5L190.5,513.5L188.2,514.9L185.5,515.5L182.9,515.5L180,514.8M180,524.6L202.6,528.7L214.4,530.7L219.2,531.3L228.7,531.6L242.4,531L243.7,530.7L244.1,530L243.6,529.1L237.7,523.7L237.4,522.9L237.8,522.2L238.9,521.6L242.4,520.8L245.7,519.5L256.6,513.8L260.7,512.7L263.3,512.8L265.5,513.6L267.1,515.3L268.1,517.7L268,520.4L267.6,521.7L266.2,524.1L264.1,525.8L258.8,529L258.1,529.8L258.1,530.6L258.8,531.4L263.1,533.6L271,536.5M180,529.4L202.6,533.8L212.1,534.9L228.7,536.2L235.8,537.2L240.6,538.2L245.1,539.4L250.4,541.6L254,543.7L257.5,546.8M180,532.1L200.2,536.1L212.1,537.7L226.2,539.2L230.5,540L236.1,541.5L239.3,542.7L241.9,544.1L244.9,546.8M180,534.9L197.8,538.6L216.7,541.1L222.9,542.2L227.7,543.7L233,546.8M180,538.1L193.1,540.7L213.4,543.9L216.8,544.8L221.1,546.8M180,541.2L197.7,544.4L206.9,546.5M180,543.9L192.7,546.8M294.5,535.7L290.2,519.1L289.4,514.1L289,506.1L289.8,498.9L291,494.1L292.6,489.5L295.9,483.3L298.6,479.6L307.5,470M297.7,546.8L296.6,535.8L294,516.5L293.7,508.2L294.3,500.5L295.2,496L296.5,492.5L298.5,489M300.9,546.8L300.2,535.7L298.5,519.9L298.3,510.5L298.6,504.6L299.2,499.4L300.2,495.6L301.6,492.2M304,546.8L302,519.9L301.8,510.5L302.1,504.9L302.8,500L303.9,495.7L305.6,491.1M307.2,546.8L305.3,514.6L305.6,506.8L306.3,502.2L308.1,496.5L309.7,493.3L313,489M310.3,546.8L308.9,520.5L309,510.8L309.8,503.9L310.6,500.1L312.2,495.6L314.3,491.4M313.5,546.8L312.5,526.2L312.5,517.9L313,510.8L314.2,503.8L315.5,499.8L317.9,495L320.6,491.4M318.3,546.8L318.4,529.3L318.9,521.4L319.7,515.2L321,509.4L323.4,501.9L325,498.3L325.9,497.3L326.9,496.9L328,497.1L329.1,498L332.7,501.4L333.9,502.7L334.6,504.1L334.8,505.5L334.5,506.9L332.1,511.5L330.5,515.3L329.4,519.6L329.1,524.2L329.6,531.4L333.3,546.8M339.6,546.8L340.1,540.9L340.8,536.4L341.9,532.4L342.6,530.5L344.6,527L346.9,524L349.3,521.8L352.3,519.9M364.1,518.3L365.6,520.3L366.3,520.8L367,520.8L367.8,520.6L370,519.1M393.7,535L386.6,540.1L383.2,543.3L380.2,547M435,535L432,547M423.7,535L425,540.2L426,547M364.5,547L365.9,543.7L366.4,543L367,543L367.6,543.7L369,547M440,513.3L442.4,514.7L444.3,517.6L445.3,520.1L446,524.9M460,536L455.3,539.7L450,542.9L446,544.4L440,546M453.3,486L463.3,497.3L473.8,510.4L475.4,513.3L475.9,514.7L476.7,517.4L477.1,520L476.5,522.7L475.8,524L465.9,537.3L460,546.7M470.7,496.7L489.2,512.1L489.8,513.1L489.9,514.2L489.7,515.5L488.3,518.5L486.5,521.3L483.6,525.1L478.9,530.7L464,547.3M494.9,528L495.4,526L496.6,522.7L497.4,521.5L498.7,520.3L505.6,516.5L509.1,513.9L510.7,513.3L514.7,512.5L516.3,511.9L517.3,511L517.7,509.8L517.6,508.2L517.8,506.9L518.4,505.6L519.3,504.5L523.1,501.3L529.2,493.3L530.9,490.1L534.3,480.8L535.7,477.7L537.5,475.2L540,472.7M496,532L499.5,530.1L501.5,528.5L507.4,522.5L511.3,517.7L515.2,514.8L520.2,510.5L523.4,508.4L527.3,506.3L534.2,501.5L540,498M540,498L552.8,486.4L556.5,483.4L561.4,480.2L562.7,478.8L563.6,476.9L564.2,474.6L564.5,471.7L564.8,466.8L564.2,460M540,472.8L541.2,460M563.8,547L563.8,544.2L564,543.1L564.5,542.1L566.1,540.2L569.4,538.5L571.7,537.8L577.2,536.9L579.7,536.9L582.1,537.2L584.2,537.8L588.8,539.8L593.8,542.7L598.8,545L601.2,545.7L607.5,546.8M370,245.6L367.5,243.4L365.5,241.1L363.5,238.2L362,235.2L361.1,232.2L360.8,229.2L361.5,223.5M354,245L351,240.4L348.9,235L348.5,230.9L348.8,228.8L350,223.5M298.5,490L307.6,478.6L316.4,469.2L321.7,463.2L323.9,461.6L327.6,459.9L331.2,458.8L335,458M301,492L304.5,486.2L308.5,480.9L311.9,477.1L319.4,469.7L322.2,467.7L326.8,465.3L331.1,463.8L335,463M305.5,491L308.7,485.6L313,480M335,458L343.6,459.8L352.4,462.6L359.4,465.7L370,471.5M335,463L345.4,465.8L350.6,467.6L359.4,471.7L370,478M335,468L343.6,469.8L350.6,472.1L359.4,476.2L370,482.5M337,474L343.9,476.2L347.6,477.8L361,484.6L370,489.7M337,484L344,485.8L352,488.7L370,497.5M337,491.8L342.4,493L348,494.9L353.6,497.3L364,502.4L370,504.5M410.2,379.8L410,395M396.7,414.6L397.4,415.3L398.1,416.7L398.7,419.5L398.4,422.3L397.7,424L396.8,425.2L396.5,425.1L396.2,424.6L395.8,422.6L394.9,420.1L394.5,418.6L394.7,417.1L395.4,415.3L396,414.5L396.7,414.6M407.5,413.4L407.8,414.9L408.9,417.2L409.2,418.5L408.7,419.7L407.9,420.1L407,419.6L406.6,419.1L406.3,417.6L406.7,414.2L407.2,413.1L407.5,413.4M415.9,405.2L416.6,404.2L417.2,403.5L417.8,403.2L418.4,403.4L420.8,405.2L429.2,408.7L430.7,410.2L431.5,412L431.6,413.9L431.1,415.6L430.5,416.3L428.9,417.4L427.9,417.6L426.8,417.4L425.6,416.9L418.8,412.8L416.5,410.9L415.6,409.6L415.2,408.1L415.3,407.2L415.9,405.2M425.9,401.3L426.6,400.8L427.9,400.6L429.4,401.3L429.9,401.7L429.9,402.1L429,403.1L427.7,403.3L426.9,403.1L425.7,402.1L425.7,401.7L425.9,401.3M442.2,400.8L445.6,398L447.8,396.9L448.8,396.8L449.8,397L450.8,397.6L451.7,398.6L453.8,401.2L454.3,401.9L454.4,402.7L454.2,403.5L453.6,404.3L451.6,405.6L449.3,406.2L448.1,406.2L445.5,405.5L442.7,403.9L441.9,402.9L441.8,401.9L442.2,400.8M470,406.2L467.6,406.6L465.6,407.5L463.5,409.2L462.9,410L462.7,410.7L463.1,411.3L464.7,412.2L470,413.8M453.1,427.4L455.5,426.7L457.6,426.8L458.6,427.2L459.1,427.8L459.3,428.6L459.1,429.6L457.8,431.5L457.2,431.7L456.6,431.6L455.2,430.4L452.6,428.8L452.2,428.3L452.4,427.9L453.1,427.4M432.5,419.4L439.4,419.6M437.2,436.3L437.6,436.6L437.7,437.6L437.5,438.8L437.2,439.2L436.8,438.9L436.7,438L436.9,436.7L437.2,436.3M465,436.2L470,435.6M476.2,400.8L476.9,399.8L477.8,399.1L478.7,399L479.8,399.3L483.2,401.2L486.2,402.3L486.1,402.7L485.4,403L478.6,405.1L477.8,404.9L476.2,403.7L475.8,402.8L475.8,401.9L476.2,400.8M470,407.5L473.1,408.2L473.7,408.6L474.2,410L473.8,411.5L473.2,412.2L471.2,413.6L470,413.5M471.9,427.8L474.5,426.8L476,426.7L479.3,427.2L481,428.1L481,428.6L479.5,429.4L477.3,429.5L471.4,428.9L471,428.7L471.9,427.8M475.1,441.7L475.5,440.8L476.3,440.2L477.3,440.1L478.6,440.3L489,444L490.7,444.9L491.1,445.5L491.1,446.2L490,448L489,448.6L487.8,448.9L486.4,448.9L480.1,447.4L477.3,446.4L475.5,445L474.8,443.5L475.1,441.7M464.1,462.4L463,461.9L461.7,460.1L460.6,459.2L454.2,455.9L449.4,451.4L444.9,449L440.6,446L439.9,444.8L439.9,444.1L440.2,443.5L440.8,443L441.9,442.7L446.6,442.6L447.9,442.8L449.7,443.4L453.4,445.7L457.3,448.8L460.1,450.7L465.3,452.6L467.5,453.7L468.6,454.9L469.8,457L471.6,458.7L472.9,459.4L477,460.9M465.4,436.2L468,436L470.1,436.2L470.8,436.6L469.4,437L467.5,437.1L465.2,436.6L465.1,436.4L465.4,436.2M285.9,404.4L287.7,408.8L288.7,412.9L289.2,417.5L289.2,419.9L289,422.4L288.2,426.5L286.8,429.3L286.1,429.9L285.4,429.9L284.8,429.3L284.3,428.1L283.6,424.6L283.2,419.9L283.3,415.2L283.7,408.8L284.5,404.4L284.9,403.8L285.4,403.8L285.9,404.4M295.7,402.6L296.9,405.7L297.3,408.1L297.1,410L296.8,410.7L296.3,411.2L295.9,411.3L295.2,410.2L294.6,406.6L295,402.6L295.3,402.3L295.7,402.6M245.7,456.8L246.8,458.3L248.5,459.5L250.7,460.3L254.7,461.2L255.2,461.6L255.4,462.2L255.2,462.8L254.8,463.3L253.1,463.7L248.1,463.1L245.9,462.5L245.2,461.9L244.8,461.1L244.6,459.3L244.8,456.8L245,456.4L245.3,456.4L245.7,456.8M232.6,504.1L233.4,503.6L234.8,503.5L235.8,504.4L236.1,505.5L235.3,506.3L234.1,506.4L232.6,505.6L232.2,505.1L232.2,504.6L232.6,504.1M464.8,478.2L465.8,477.5L468.1,476.9L470.7,477.4L473.2,478.5L475.6,480.1L477.5,481.7L479.7,484.2L482.1,486.3L482.5,487L482.5,487.6L481.2,488.8L479.2,489.4L478,489.3L475.5,488.7L474.5,488.1L471.3,485.1L467.9,483.4L465.8,481.8L464.8,480.8L464.3,479.9L464.3,479L464.8,478.2M545,546.8L547.4,543.8L548.5,543.2L549.7,543.2L551.1,543.8L555,546.8"/>
<path d="M326,247.3L337,247.3" stroke-width="1.6"/>
</g>
<clipPath id="pl"><path d="M294,256L296,256L307,259L316,264L321,272L324,282L326,292L327,305L328,320L327,335L324,348L318,355L311,362L303,370L296,377L292,385L290,395L285,402L278,408L270,414L254,414L254,402L264,402L264,385L274,385L274,351L284,351L284,334L294,334ZM446,93L458,93L460,100L462,110L458,118L452,124L446,128L436,128L436,119L446,119Z"/></clipPath>
<clipPath id="plA"><rect x="280" y="250" width="60" height="87"/></clipPath><clipPath id="plB"><rect x="240" y="337" width="100" height="90"/><rect x="430" y="90" width="40" height="40"/></clipPath>
<g clip-path="url(#sea)"><g clip-path="url(#pl)" fill="none" stroke="#000" stroke-width="1" shape-rendering="crispEdges"><path clip-path="url(#plA)" d="M296,308.3L295,309.9L293.6,315L293.5,326L293.9,330L295,332L296,331.8L298.4,327L298.2,321L298.6,318L298.2,314L297,309.3L296,308.3M296,304.4L294,306.5L289.8,314L289.4,316L289.3,320L288.4,325L287.8,333L287,334.5L284,336.7L283.4,338L284.1,341L285,342.4L286,343.1L287,343L288,342.2L291,338.8L297,334.1L299,331.4L302,328.6L303.1,327L303.2,325L301.8,322L301.6,321L303.2,317L303.2,315L301.3,312L298,305.2L297,304.4L296,304.4M295,301.6L293.8,303L287.9,313L283.7,329L280.4,335L279.7,337L279.7,339L280.6,341L283.4,344L285,345.1L286,345.2L287,344.9L293.3,340L297,336.4L303.6,329L304.5,327L304.6,325L304.1,321L304.6,316L304,313.1L301,306.6L299,303.2L297,301.6L296,301.3L295,301.6M295,299.6L292.4,302L288.2,308L285.8,312L284.1,316L277.6,335L277.2,339L277.7,341L278.6,343L280.6,345L284,346.5L286,346.7L287.7,346L293.9,341L300,334.9L305,329L305.4,328L305.6,317L305,312.4L303,307.2L300,301.9L297.9,300L296,299.4L295,299.6M295,297.7L293.1,299L290.2,302L284.7,309L281.4,315L277.4,325L275.1,332L274.2,337L274.2,341L275.4,348L275,349L272,351.6L270.7,354L270.9,357L271.4,358L273,359.1L274.7,359L276,358.3L277.8,356L278,354.4L277.3,350L278,349.2L281,348.4L286,348.1L289,346.3L295.2,341L300,336.2L305.2,330L306.4,328L306.5,321L306.1,314L305.7,312L304,307.1L302,302.8L300,299.8L299,298.8L297.3,298L295,297.7M294,296.7L290.8,299L287.5,302L284.7,305L281.5,309L277.4,316L273.2,326L271.1,334L270.2,346L268.6,354L268.8,356L269.6,358L270.3,359L272,360.2L274,360.5L275,360.2L277,359L278.7,357L280,353L281,351.4L282,350.6L286,349.1L288,348L295.1,342L301.1,336L306,330L307,328.2L307.2,321L306.5,313L304,305.3L302,301.3L299.4,298L297,296.6L295,296.4L294,296.7M293,295.9L289.3,298L285.4,301L282.2,304L278.7,308L275.9,312L273.6,316L271.2,321L269.3,326L267.8,331L266.9,336L266,352L266.3,355L267.4,358L268.9,360L271,361.4L274,361.8L276,361.1L277.5,360L279.9,357L282.1,353L283.1,352L290,347.2L297,341L302,335.8L306.7,330L307.7,328L307.8,322L307.1,313L305.6,308L304,303.8L301.3,299L299,296.6L296,295.4L293,295.9M292,294.8L287.5,297L283,300L279.4,303L275.5,307L272.4,311L269.3,316L266.9,321L265,326L263.5,332L262.6,338L262.3,345L262.6,351L263.4,355L265.1,359L267,361.3L270,363.2L272,363.6L274,363.5L276,362.7L278,361.1L284.2,353L296,342.7L301.6,337L307.3,330L308.2,328L308.4,322L307.5,312L305.9,307L303.8,302L301,297.6L298,295L295,294.1L292,294.8M294,292.8L289,294.2L283.1,297L278.5,300L273.8,304L270.1,308L266.4,313L263.6,318L261.1,324L259.4,330L258.3,337L258.1,344L258.8,351L260.5,357L262.7,361L265.6,364L269,365.8L271,366.1L274,365.7L276,364.8L277,363.9L287.8,351L297,342.6L302,337.4L308.4,329L308.9,327L309,323L308.2,313L306.9,308L305.4,304L303.4,300L300,295.2L297,293.2L294,292.8M291,291.9L285,293.6L279.5,296L274,299.4L268.4,304L264,309L260.6,314L257.5,320L255.1,327L253.8,334L253.4,341L254,348L255.6,355L258,360.5L261.2,365L265,368.4L270,370.9L271,371.1L272,370.7L273.3,369L277,365.9L290,350L297,343.5L302.2,338L308.4,330L309.3,328L309.5,322L308.7,312L307.2,307L304.8,301L301.8,296L299,293L297,292L295,291.5L291,291.9M287,290.8L280,292.7L274,295.3L268.1,299L262.3,304L257.3,310L253.7,316L250.8,323L249.1,330L248.3,337L248.6,345L250.2,353L252.8,360L256.3,366L261,371.5L265.6,375L269.2,377L272,378L273,378L274,377.6L275,376.3L275.6,374L275.5,370L276.6,368L292.2,349L297,344.5L303,338.1L309,330L309.8,328L310,322L309.4,312L306.6,303L305.3,300L302.9,296L300,292.5L297,290.8L293,290.2L287,290.8M262,388.3L261,389.1L260.5,390L260.3,392L260.6,393L261.2,394L262.7,395L264,395.2L264.7,395L265.6,394L265.8,393L265,390L264,388.4L263,388L262,388.3M284,289L277,290.5L270,293.1L263.3,297L258,301.2L252.7,307L248.8,313L245.6,320L243.6,327L242.7,333L242.6,339L243.2,346L244.5,352L247,359L249.9,365L253,370L261.4,382L261.3,383L258.9,387L258.4,389L258.3,391L258.8,393L260,394.8L261.7,396L263,396.5L265,396.4L266,395.7L266.8,394L266.9,393L266,388L263.5,383L264.1,382L267,380.4L273,379.2L275,377.9L276.3,375L277,370L278.1,368L293,349.7L303.2,339L309,330.9L310.4,328L310.6,321L309.9,311L306.9,301L303.5,295L300,291L297,289.6L291,288.6L284,289M278,287L270,288.7L263,291.5L256,295.7L249.8,301L244.9,307L240.8,314L238.2,321L236.5,329L236.1,336L236.6,343L238.2,351L240.6,358L244.4,366L253.1,381L254.2,384L255.5,390L256.6,393L258,395L260,396.7L262,397.6L264,398L265,398L266,397.5L267.5,395L267.8,392L267.8,386L268.4,384L270.2,382L274,379.8L275.7,378L277,375.2L277.8,371L279.5,368L283.3,363L291.4,354L295.2,349L304,339.4L310,330.5L310.7,329L311.1,327L311.3,320L310.9,312L310.6,310L308.8,303L307.7,300L305.6,296L303,292.2L301,290.1L299,288.8L293,287.2L286,286.5L278,287M273,283.9L265,285.4L257,288.2L253,290.3L249,292.9L242.9,298L240,301.2L237.1,305L233.2,312L230.4,320L228.9,329L228.8,337L229.8,345L232.3,354L235.7,362L239.6,369L248,382.4L254.3,394L256,396L258.8,398L261,398.9L264,399.5L265,399.5L266,399.1L267.5,397L268.3,395L270,386L271.9,383L275,380L276.5,378L277.4,376L278.4,372L280,369L284.7,363L292.2,355L296.8,349L304,340.8L310.5,331L311.4,329L311.8,327L312,320L311.7,312L310.9,307L309.6,302L308,297.7L305.4,293L303,290L301,288.2L299,287.1L290,284.7L282,283.7L273,283.9M266,279.9L257,281.5L252,283.1L247.7,285L244,287L239.5,290L235.9,293L233,296L230.4,299L227.7,303L225.4,307L223.6,311L222.2,315L221,320L220,329L220.4,338L221.3,343L222.5,348L225.9,357L230.6,366L236.5,375L249.6,393L252.1,396L254.4,398L257,399.5L260,400.4L263,400.8L265,400.7L266,400.2L268,397.7L268.8,396L271.5,387L273.1,384L277.1,378L279,372.6L280.4,370L286,363.1L293.8,355L298.3,349L304,342.3L307.8,337L312.1,329L312.5,327L312.8,320L312.4,310L310.4,301L307.7,294L305.1,290L303,287.7L301,286.3L299,285.3L285,281.2L275,279.8L266,279.9M254,274.9L249,275.8L244,277.3L239.6,279L235.6,281L232,283.2L228,286.2L224,289.8L221,293.2L218.2,297L215.8,301L213.9,305L212,310L210.7,315L209.9,320L209.5,325L209.6,330L211,340L213.9,350L218.6,360L225,370L232.2,379L250,398.8L252,400.3L255,401.6L260,402.5L262,402.5L266,401.3L267.4,400L268.7,398L272,389.6L277.8,378L279.6,373L281,370.5L286,364.6L296.3,354L299.8,349L307.7,339L310.6,334L312.6,330L313.2,328L313.5,320L313.3,310L311.8,302L309.4,294L305.6,288L304,286.2L302,284.8L300,283.7L295,282.3L286,278.5L276,275.8L270,274.8L265,274.3L259,274.4L254,274.9M245,266.9L239,267.9L234,269.2L229,271L224,273.3L219.6,276L215.5,279L211.2,283L208,286.6L205,290.7L202.5,295L200.2,300L198.5,305L197.3,310L196.5,316L196.3,321L196.6,327L197.4,333L198.6,338L202,348L207,358L213.7,368L218.8,374L223.5,379L244.8,399L247.4,402L250,406.1L258,406.7L265,403.1L267,401.7L268.5,400L270.3,397L275.7,386L280,374.1L281.1,372L285,367.1L297.3,355L309.6,338L313.7,330L314.2,328L314.4,320L314.2,308L311.7,296L310.3,292L306.5,286L305,284.5L302,282.3L300,281.3L295,280.1L289,276.8L280,272.7L269,268.9L263,267.6L257,266.8L251,266.6L245,266.9M227,255.9L221,257.1L215,259L210,261.1L204.6,264L200,267.1L195.4,271L191.6,275L187.8,280L184.8,285L182.4,290L180.7,295L179.3,301L178.5,307L178.3,313L178.7,319L179.8,326L181.3,332L183.3,338L188.3,349L191.8,355L195.1,360L199.7,366L204.2,371L210.2,377L217.3,383L236,396.5L241,400.4L244,403.5L246,407L247,408.3L248,409L249,409.2L254,409.2L257,410.2L259,410.1L260.7,409L263,406.6L268,402.3L271.4,398L276.3,389L277.7,385L280.2,376L282.1,372L286,367.5L298.2,356L309.3,341L312.7,335L314.9,330L315.5,326L315.4,308L314.1,300L313,295L311.4,291L308.5,286L305,282.2L301,279.5L297,278L294,276.6L281,268.5L273,264.1L262,259.3L256,257.5L250,256.2L244,255.3L238,255L232,255.3L227,255.9M204,236.9L197,238.2L190,240.3L183.3,243L177,246.4L171,250.5L166,254.8L161.3,260L157.7,265L155,270L152.5,276L150.9,282L149.9,289L149.7,296L150.3,303L151.5,310L153.4,317L156.3,325L159.4,332L163.7,340L168.1,347L173,354L178.7,361L184.2,367L190.4,373L197.6,379L206,385L216.1,391L237,401.9L241,404.6L246,409.2L248.1,410L253,410.3L257,411.4L259,411.3L261.6,410L268,404.3L271.3,401L273.7,398L276,394.3L277.6,391L279,386L280.3,379L281.6,375L283,372.3L286,368.9L292,363.1L296.9,359L299.8,356L310.9,341L314.2,335L315.9,331L316.7,328L317,315L316.6,306L314.1,294L312.9,291L310.1,286L307,282L305,280L302,277.7L292.9,273L272,255.6L265,250.7L258,246.6L252,243.7L245,241L238,238.9L231,237.4L224,236.4L217,236L210,236.2L204,236.9M70,300.4L77,301.1L84,303.2L92,307.1L100,312.3L107,317.7L115,324.6L145,353L158.4,365L172.3,376L186,385.2L196.5,391L207,395.6L232,403.7L240,407.1L246,410.5L252,411L257,412.7L260,412.3L263.6,410L270,404.7L275.5,399L277,397L278.7,394L279.5,392L280.3,388L281.2,380L282,377L283.7,373L286,370.3L292.8,364L297,360.5L301.4,356L311.9,342L313.8,339L316.6,333L318,329L318.4,326L318.5,318L318.3,307L315.8,295L314.5,291L312.4,287L308,280.6L304,276.6L302,275L296,272.3L294,270.9L273,244.7L266,237.2L259,230.7L252,225L244,219.4L235,214L226,209.5L211,203.3L203,200.7L195,198.5L187,196.7L178,195.1L161,193.4L147,193L133,193.6L119,195L87,199.2L78,199.9L70,200.1M70,354.4L79,354.9L88,356.3L98,358.8L108,362.2L117,365.9L127,370.6L170,392.6L181,397.4L191,401L199,403.3L207,404.9L229,407L240,409.5L245,411.9L251,411.8L252,412L255,413.8L258,414.3L260,413.8L262,412.8L270,407L279,398L280.9,395L281.5,393L282.5,381L283,378.7L285,373.6L287.3,371L300.7,359L304.4,355L308,349.7L315.3,340L317.7,335L319.6,330L320.1,327L320.3,323L320.1,307L317.8,295L316.5,291L314.1,286L309.7,279L305,273.4L303,271.6L298.4,270L296.7,269L290.7,261L288.7,257L281,238.1L275,225.5L268,213.2L259,199.7L252,190.3L244,180.4L215.4,147L204.8,134L195,121L187,109L182.3,101L178.7,94L175.5,87L172.5,79L170.2,71L168.8,64L167.9,57L167.6,50M448,95.9L446,96.5L445,97.4L444,99L443.7,101L444.2,103L445.6,106L445.4,109L445.7,110L447,111.6L448,112.1L449,112.2L450,111.8L451.2,110L451,105L452,102.6L452.2,100L452,99L451,97.3L450,96.4L448,95.9M70,386.2L80,386.6L90,387.5L100,389L111,391.3L131,396.6L171,409.5L179,411.5L186,412.8L198,414.4L207,414.7L211,414.2L220,412.1L228,410.9L233,411.8L238,413.6L244,415.2L246,415.2L250,414.7L255,416.4L258,416.2L262,414.5L271.8,408L274.9,404L280.3,399L282.1,396L283,394L284.4,382L285.9,377L287.4,374L290,370.7L304,358.3L316.7,342L318.5,339L321.9,330L322.9,321L322.3,306L319.9,292L318.1,286L316,281L313.5,276L310.7,272L308,269L306,267.4L296,262L294,260.3L293.3,259L293,251L290.7,224L289.5,214L287.8,204L285.6,193L282.6,181L267.5,129L261.2,104L258.6,90L256.6,76L255.5,63L255.1,50M444,93.7L441.6,95L440.6,96L439.4,98L438.8,101L439.2,104L441.6,109L444.3,112L447,113.2L449,113.6L450,113.4L451,112.7L452.2,111L453.9,105L453.8,103L453,98.4L452,96.3L450,94.2L447,93.2L444,93.7M549,134L548,134.3L547,135.5L543,142.4L541.7,147L541.6,152L542,155.4L544,158.8L546,160.7L548,162L550,162.2L558,160.1L562.4,158L567,155L571.1,151L571.7,150L571.6,149L566.7,143L562,138.7L559.2,137L557,136L549,134M381,224L380,225L380,226L379,227L379,228L383,230L383,225L382,224L381,224M378,230L378,231L378,230M384,231L384,231M70,412.8L86,413L101,413.8L115,415L128,416.8L144,419.7L166,424.8L172,426.7L176,429.1L179,429.5L183.5,429L185,428.4L188,425.2L190,424.3L192,424.1L197,425L202,423.2L204,423.6L207,426L209,427L211.3,427L213,426.2L214,425.3L217.2,421L220.1,418L222,416.6L224,416L228,417.2L230,417L232,416.5L233,416.7L238,420L242,421.1L248,421.5L253,420.6L260,417.8L269,411.5L273.5,410L275,408.4L276.5,405L282.2,399L284.7,394L287,382.9L289,377.3L290.7,374L292.3,372L305,360.5L320.1,342L321.8,339L323.8,333L324.8,329L325.7,323L325.9,316L325.2,312L324.9,305L322.5,288L321.5,283L319.3,275L316.1,269L311.8,264L309.4,262L306.3,260L304,258.8L301,257.7L300.2,257L299.6,252L299.8,247L300.5,243L307.8,221L312,205L314.3,193L315.6,182L316.4,163L316.1,116L316.6,50"/><path clip-path="url(#plB)" stroke-dasharray="1.6 1.1" d="M296,308.3L295,309.9L293.6,315L293.5,326L293.9,330L295,332L296,331.8L298.4,327L298.2,321L298.6,318L298.2,314L297,309.3L296,308.3M296,304.4L294,306.5L289.8,314L289.4,316L289.3,320L288.4,325L287.8,333L287,334.5L284,336.7L283.4,338L284.1,341L285,342.4L286,343.1L287,343L288,342.2L291,338.8L297,334.1L299,331.4L302,328.6L303.1,327L303.2,325L301.8,322L301.6,321L303.2,317L303.2,315L301.3,312L298,305.2L297,304.4L296,304.4M295,301.6L293.8,303L287.9,313L283.7,329L280.4,335L279.7,337L279.7,339L280.6,341L283.4,344L285,345.1L286,345.2L287,344.9L293.3,340L297,336.4L303.6,329L304.5,327L304.6,325L304.1,321L304.6,316L304,313.1L301,306.6L299,303.2L297,301.6L296,301.3L295,301.6M295,299.6L292.4,302L288.2,308L285.8,312L284.1,316L277.6,335L277.2,339L277.7,341L278.6,343L280.6,345L284,346.5L286,346.7L287.7,346L293.9,341L300,334.9L305,329L305.4,328L305.6,317L305,312.4L303,307.2L300,301.9L297.9,300L296,299.4L295,299.6M295,297.7L293.1,299L290.2,302L284.7,309L281.4,315L277.4,325L275.1,332L274.2,337L274.2,341L275.4,348L275,349L272,351.6L270.7,354L270.9,357L271.4,358L273,359.1L274.7,359L276,358.3L277.8,356L278,354.4L277.3,350L278,349.2L281,348.4L286,348.1L289,346.3L295.2,341L300,336.2L305.2,330L306.4,328L306.5,321L306.1,314L305.7,312L304,307.1L302,302.8L300,299.8L299,298.8L297.3,298L295,297.7M294,296.7L290.8,299L287.5,302L284.7,305L281.5,309L277.4,316L273.2,326L271.1,334L270.2,346L268.6,354L268.8,356L269.6,358L270.3,359L272,360.2L274,360.5L275,360.2L277,359L278.7,357L280,353L281,351.4L282,350.6L286,349.1L288,348L295.1,342L301.1,336L306,330L307,328.2L307.2,321L306.5,313L304,305.3L302,301.3L299.4,298L297,296.6L295,296.4L294,296.7M293,295.9L289.3,298L285.4,301L282.2,304L278.7,308L275.9,312L273.6,316L271.2,321L269.3,326L267.8,331L266.9,336L266,352L266.3,355L267.4,358L268.9,360L271,361.4L274,361.8L276,361.1L277.5,360L279.9,357L282.1,353L283.1,352L290,347.2L297,341L302,335.8L306.7,330L307.7,328L307.8,322L307.1,313L305.6,308L304,303.8L301.3,299L299,296.6L296,295.4L293,295.9M292,294.8L287.5,297L283,300L279.4,303L275.5,307L272.4,311L269.3,316L266.9,321L265,326L263.5,332L262.6,338L262.3,345L262.6,351L263.4,355L265.1,359L267,361.3L270,363.2L272,363.6L274,363.5L276,362.7L278,361.1L284.2,353L296,342.7L301.6,337L307.3,330L308.2,328L308.4,322L307.5,312L305.9,307L303.8,302L301,297.6L298,295L295,294.1L292,294.8M294,292.8L289,294.2L283.1,297L278.5,300L273.8,304L270.1,308L266.4,313L263.6,318L261.1,324L259.4,330L258.3,337L258.1,344L258.8,351L260.5,357L262.7,361L265.6,364L269,365.8L271,366.1L274,365.7L276,364.8L277,363.9L287.8,351L297,342.6L302,337.4L308.4,329L308.9,327L309,323L308.2,313L306.9,308L305.4,304L303.4,300L300,295.2L297,293.2L294,292.8M291,291.9L285,293.6L279.5,296L274,299.4L268.4,304L264,309L260.6,314L257.5,320L255.1,327L253.8,334L253.4,341L254,348L255.6,355L258,360.5L261.2,365L265,368.4L270,370.9L271,371.1L272,370.7L273.3,369L277,365.9L290,350L297,343.5L302.2,338L308.4,330L309.3,328L309.5,322L308.7,312L307.2,307L304.8,301L301.8,296L299,293L297,292L295,291.5L291,291.9M287,290.8L280,292.7L274,295.3L268.1,299L262.3,304L257.3,310L253.7,316L250.8,323L249.1,330L248.3,337L248.6,345L250.2,353L252.8,360L256.3,366L261,371.5L265.6,375L269.2,377L272,378L273,378L274,377.6L275,376.3L275.6,374L275.5,370L276.6,368L292.2,349L297,344.5L303,338.1L309,330L309.8,328L310,322L309.4,312L306.6,303L305.3,300L302.9,296L300,292.5L297,290.8L293,290.2L287,290.8M262,388.3L261,389.1L260.5,390L260.3,392L260.6,393L261.2,394L262.7,395L264,395.2L264.7,395L265.6,394L265.8,393L265,390L264,388.4L263,388L262,388.3M284,289L277,290.5L270,293.1L263.3,297L258,301.2L252.7,307L248.8,313L245.6,320L243.6,327L242.7,333L242.6,339L243.2,346L244.5,352L247,359L249.9,365L253,370L261.4,382L261.3,383L258.9,387L258.4,389L258.3,391L258.8,393L260,394.8L261.7,396L263,396.5L265,396.4L266,395.7L266.8,394L266.9,393L266,388L263.5,383L264.1,382L267,380.4L273,379.2L275,377.9L276.3,375L277,370L278.1,368L293,349.7L303.2,339L309,330.9L310.4,328L310.6,321L309.9,311L306.9,301L303.5,295L300,291L297,289.6L291,288.6L284,289M278,287L270,288.7L263,291.5L256,295.7L249.8,301L244.9,307L240.8,314L238.2,321L236.5,329L236.1,336L236.6,343L238.2,351L240.6,358L244.4,366L253.1,381L254.2,384L255.5,390L256.6,393L258,395L260,396.7L262,397.6L264,398L265,398L266,397.5L267.5,395L267.8,392L267.8,386L268.4,384L270.2,382L274,379.8L275.7,378L277,375.2L277.8,371L279.5,368L283.3,363L291.4,354L295.2,349L304,339.4L310,330.5L310.7,329L311.1,327L311.3,320L310.9,312L310.6,310L308.8,303L307.7,300L305.6,296L303,292.2L301,290.1L299,288.8L293,287.2L286,286.5L278,287M273,283.9L265,285.4L257,288.2L253,290.3L249,292.9L242.9,298L240,301.2L237.1,305L233.2,312L230.4,320L228.9,329L228.8,337L229.8,345L232.3,354L235.7,362L239.6,369L248,382.4L254.3,394L256,396L258.8,398L261,398.9L264,399.5L265,399.5L266,399.1L267.5,397L268.3,395L270,386L271.9,383L275,380L276.5,378L277.4,376L278.4,372L280,369L284.7,363L292.2,355L296.8,349L304,340.8L310.5,331L311.4,329L311.8,327L312,320L311.7,312L310.9,307L309.6,302L308,297.7L305.4,293L303,290L301,288.2L299,287.1L290,284.7L282,283.7L273,283.9M266,279.9L257,281.5L252,283.1L247.7,285L244,287L239.5,290L235.9,293L233,296L230.4,299L227.7,303L225.4,307L223.6,311L222.2,315L221,320L220,329L220.4,338L221.3,343L222.5,348L225.9,357L230.6,366L236.5,375L249.6,393L252.1,396L254.4,398L257,399.5L260,400.4L263,400.8L265,400.7L266,400.2L268,397.7L268.8,396L271.5,387L273.1,384L277.1,378L279,372.6L280.4,370L286,363.1L293.8,355L298.3,349L304,342.3L307.8,337L312.1,329L312.5,327L312.8,320L312.4,310L310.4,301L307.7,294L305.1,290L303,287.7L301,286.3L299,285.3L285,281.2L275,279.8L266,279.9M254,274.9L249,275.8L244,277.3L239.6,279L235.6,281L232,283.2L228,286.2L224,289.8L221,293.2L218.2,297L215.8,301L213.9,305L212,310L210.7,315L209.9,320L209.5,325L209.6,330L211,340L213.9,350L218.6,360L225,370L232.2,379L250,398.8L252,400.3L255,401.6L260,402.5L262,402.5L266,401.3L267.4,400L268.7,398L272,389.6L277.8,378L279.6,373L281,370.5L286,364.6L296.3,354L299.8,349L307.7,339L310.6,334L312.6,330L313.2,328L313.5,320L313.3,310L311.8,302L309.4,294L305.6,288L304,286.2L302,284.8L300,283.7L295,282.3L286,278.5L276,275.8L270,274.8L265,274.3L259,274.4L254,274.9M245,266.9L239,267.9L234,269.2L229,271L224,273.3L219.6,276L215.5,279L211.2,283L208,286.6L205,290.7L202.5,295L200.2,300L198.5,305L197.3,310L196.5,316L196.3,321L196.6,327L197.4,333L198.6,338L202,348L207,358L213.7,368L218.8,374L223.5,379L244.8,399L247.4,402L250,406.1L258,406.7L265,403.1L267,401.7L268.5,400L270.3,397L275.7,386L280,374.1L281.1,372L285,367.1L297.3,355L309.6,338L313.7,330L314.2,328L314.4,320L314.2,308L311.7,296L310.3,292L306.5,286L305,284.5L302,282.3L300,281.3L295,280.1L289,276.8L280,272.7L269,268.9L263,267.6L257,266.8L251,266.6L245,266.9M227,255.9L221,257.1L215,259L210,261.1L204.6,264L200,267.1L195.4,271L191.6,275L187.8,280L184.8,285L182.4,290L180.7,295L179.3,301L178.5,307L178.3,313L178.7,319L179.8,326L181.3,332L183.3,338L188.3,349L191.8,355L195.1,360L199.7,366L204.2,371L210.2,377L217.3,383L236,396.5L241,400.4L244,403.5L246,407L247,408.3L248,409L249,409.2L254,409.2L257,410.2L259,410.1L260.7,409L263,406.6L268,402.3L271.4,398L276.3,389L277.7,385L280.2,376L282.1,372L286,367.5L298.2,356L309.3,341L312.7,335L314.9,330L315.5,326L315.4,308L314.1,300L313,295L311.4,291L308.5,286L305,282.2L301,279.5L297,278L294,276.6L281,268.5L273,264.1L262,259.3L256,257.5L250,256.2L244,255.3L238,255L232,255.3L227,255.9M204,236.9L197,238.2L190,240.3L183.3,243L177,246.4L171,250.5L166,254.8L161.3,260L157.7,265L155,270L152.5,276L150.9,282L149.9,289L149.7,296L150.3,303L151.5,310L153.4,317L156.3,325L159.4,332L163.7,340L168.1,347L173,354L178.7,361L184.2,367L190.4,373L197.6,379L206,385L216.1,391L237,401.9L241,404.6L246,409.2L248.1,410L253,410.3L257,411.4L259,411.3L261.6,410L268,404.3L271.3,401L273.7,398L276,394.3L277.6,391L279,386L280.3,379L281.6,375L283,372.3L286,368.9L292,363.1L296.9,359L299.8,356L310.9,341L314.2,335L315.9,331L316.7,328L317,315L316.6,306L314.1,294L312.9,291L310.1,286L307,282L305,280L302,277.7L292.9,273L272,255.6L265,250.7L258,246.6L252,243.7L245,241L238,238.9L231,237.4L224,236.4L217,236L210,236.2L204,236.9M70,300.4L77,301.1L84,303.2L92,307.1L100,312.3L107,317.7L115,324.6L145,353L158.4,365L172.3,376L186,385.2L196.5,391L207,395.6L232,403.7L240,407.1L246,410.5L252,411L257,412.7L260,412.3L263.6,410L270,404.7L275.5,399L277,397L278.7,394L279.5,392L280.3,388L281.2,380L282,377L283.7,373L286,370.3L292.8,364L297,360.5L301.4,356L311.9,342L313.8,339L316.6,333L318,329L318.4,326L318.5,318L318.3,307L315.8,295L314.5,291L312.4,287L308,280.6L304,276.6L302,275L296,272.3L294,270.9L273,244.7L266,237.2L259,230.7L252,225L244,219.4L235,214L226,209.5L211,203.3L203,200.7L195,198.5L187,196.7L178,195.1L161,193.4L147,193L133,193.6L119,195L87,199.2L78,199.9L70,200.1M70,354.4L79,354.9L88,356.3L98,358.8L108,362.2L117,365.9L127,370.6L170,392.6L181,397.4L191,401L199,403.3L207,404.9L229,407L240,409.5L245,411.9L251,411.8L252,412L255,413.8L258,414.3L260,413.8L262,412.8L270,407L279,398L280.9,395L281.5,393L282.5,381L283,378.7L285,373.6L287.3,371L300.7,359L304.4,355L308,349.7L315.3,340L317.7,335L319.6,330L320.1,327L320.3,323L320.1,307L317.8,295L316.5,291L314.1,286L309.7,279L305,273.4L303,271.6L298.4,270L296.7,269L290.7,261L288.7,257L281,238.1L275,225.5L268,213.2L259,199.7L252,190.3L244,180.4L215.4,147L204.8,134L195,121L187,109L182.3,101L178.7,94L175.5,87L172.5,79L170.2,71L168.8,64L167.9,57L167.6,50M448,95.9L446,96.5L445,97.4L444,99L443.7,101L444.2,103L445.6,106L445.4,109L445.7,110L447,111.6L448,112.1L449,112.2L450,111.8L451.2,110L451,105L452,102.6L452.2,100L452,99L451,97.3L450,96.4L448,95.9M70,386.2L80,386.6L90,387.5L100,389L111,391.3L131,396.6L171,409.5L179,411.5L186,412.8L198,414.4L207,414.7L211,414.2L220,412.1L228,410.9L233,411.8L238,413.6L244,415.2L246,415.2L250,414.7L255,416.4L258,416.2L262,414.5L271.8,408L274.9,404L280.3,399L282.1,396L283,394L284.4,382L285.9,377L287.4,374L290,370.7L304,358.3L316.7,342L318.5,339L321.9,330L322.9,321L322.3,306L319.9,292L318.1,286L316,281L313.5,276L310.7,272L308,269L306,267.4L296,262L294,260.3L293.3,259L293,251L290.7,224L289.5,214L287.8,204L285.6,193L282.6,181L267.5,129L261.2,104L258.6,90L256.6,76L255.5,63L255.1,50M444,93.7L441.6,95L440.6,96L439.4,98L438.8,101L439.2,104L441.6,109L444.3,112L447,113.2L449,113.6L450,113.4L451,112.7L452.2,111L453.9,105L453.8,103L453,98.4L452,96.3L450,94.2L447,93.2L444,93.7M549,134L548,134.3L547,135.5L543,142.4L541.7,147L541.6,152L542,155.4L544,158.8L546,160.7L548,162L550,162.2L558,160.1L562.4,158L567,155L571.1,151L571.7,150L571.6,149L566.7,143L562,138.7L559.2,137L557,136L549,134M381,224L380,225L380,226L379,227L379,228L383,230L383,225L382,224L381,224M378,230L378,231L378,230M384,231L384,231M70,412.8L86,413L101,413.8L115,415L128,416.8L144,419.7L166,424.8L172,426.7L176,429.1L179,429.5L183.5,429L185,428.4L188,425.2L190,424.3L192,424.1L197,425L202,423.2L204,423.6L207,426L209,427L211.3,427L213,426.2L214,425.3L217.2,421L220.1,418L222,416.6L224,416L228,417.2L230,417L232,416.5L233,416.7L238,420L242,421.1L248,421.5L253,420.6L260,417.8L269,411.5L273.5,410L275,408.4L276.5,405L282.2,399L284.7,394L287,382.9L289,377.3L290.7,374L292.3,372L305,360.5L320.1,342L321.8,339L323.8,333L324.8,329L325.7,323L325.9,316L325.2,312L324.9,305L322.5,288L321.5,283L319.3,275L316.1,269L311.8,264L309.4,262L306.3,260L304,258.8L301,257.7L300.2,257L299.6,252L299.8,247L300.5,243L307.8,221L312,205L314.3,193L315.6,182L316.4,163L316.1,116L316.6,50"/></g></g>
<path d="M153.5,54L153.5,547M235.5,54L235.5,547M318.5,54L318.5,547M400.5,54L400.5,547M482.5,54L482.5,547M565.5,54L565.5,547M647.5,54L647.5,547M74,72.5L725,72.5M74,168.5L725,168.5M74,264.5L725,264.5M74,360.5L725,360.5M74,455.5L725,455.5" fill="none" stroke="#707070" stroke-width="1" stroke-dasharray="2 4.4" shape-rendering="crispEdges"/>
<g clip-path="url(#fr)" fill="none" stroke="#000" stroke-width="2.6" stroke-linejoin="round" stroke-linecap="round">
<path d="M97.5,548.3L96.7,540L95.8,533.3L92.2,522.8L98.3,517.8L95,506.7L92.5,498.3L94.5,488.7L102.5,486.3L105.3,479.2L110,471.7L118.3,464.2L126.7,456.7L132.5,450.8M132.4,450.8L137,444L142.4,436M190,400L178,401.6L173,403.6L177.6,399.6L177.6,393.6L168,391L161.4,387L160.4,378L165,371.6L171,367.6L165.6,361.6L156,360L148,359.6L139,365L133,371L132,378L135,384L142,390L144,399L141.6,407L125,411.4L123,420L120,428.4L130,426L138,420.4L144,418L150,422.4L145.6,429L144.4,424L139,420.4M149,409L165,403.6L173,403.6L167,410L160,413.6L152,417.6L149,409M140,427L130,431.6L120,436.4L114,443L113,454L111.6,463L120,459L128,454L133,448L138,441L142.4,435M190,400L200,398L220,396L236,394.4L248,393.6M248.7,393.5L254,388.7L256.7,378L259.9,367.3L261.5,356.7L262,343.3L263.3,335.3L267.3,332.1L262,330L258,326L256.7,320.7L270,318.8L274,312.7L276.7,303.3L278,292.7L276.7,282L276.7,274L267.3,273.5L263.3,270L259.3,275.3L252.7,268.7L259.3,260.7L262,256.7L270,251.3M270,250L280,243.6L292,236L304,229L316,221L328,212L338,206L343,204L349,198L356,193L362,191L368,184L372,176L380,168L384,163.6L390,162L396,158L400,154M259,204L266,207L266,218L267,228L272,232L274,240L275,244L270,249L264,255L254,255L252.4,246L252.4,234L255,224L257,212L259,204M275,243.6L282,239L293,232L288,227L289,219L299,214.4L304,219L305,208L310,211.6L313,202.4L319,198L326,204L334,203L335,192.4L342,198.6L342.6,204.4M392,159L400,153L403,148L404,143L409,138L414,132L420,126L426,121L429.6,117L429.6,113L427,108L426,103.6L432,102.4L438,99.6L443,95L446.4,89L447,81L447,75L441,71L444,67L452,63L460,60L470,58L476,55.6L480,54.4L486,53M335,103L341,95.6L350,93L356,98L362,105L367,100.6L372,108L377,114L384,120L389,127L389.6,134L395,138L397.6,140L396.4,148L389,153.6L386,149L382,140L376,131L368,125.6L358,124.4L350,119L342,112L338,107L335,103M569,59L578,64L588,64L596,62L606,62.4L616,65L626,68L636,69L644,70L650,72L660,71.6L670,72L680,72M569,59L576,65L584,73L590,79L593.6,81.6L597,75L608,72.4L616,74L624,78L632,82L640,83L647.6,81L652,87L657,95L650,96.4L644,101L636,103.6L624,102.4L616,104L609,108L613,113L618,115L624,114L630,112L638,113L646,117L656,119L664,125L668,129L676,131L680,131.6M668,54L670,59L674,60L678,57L680,56M668.2,53.3L669.3,58.7L673.6,60.4L681.2,55.4L685.6,53.3M691,53.3L697.5,59.8L705.1,60.4L715.9,59.8L722.4,57.6L725.7,55.4M680.1,71.7L688.8,73.9L694.2,77.8L702.9,79.3L709.4,77.8L713.8,71.7L715.9,66.3L722.4,60.8L725.7,58.7M681.2,131.8L685.6,132.4L688.8,137.9L694.2,143.3L702.9,147.6L713.8,150.2L725.7,152.4"/>
<path stroke-width="3.6" d="M568,99L566.4,104L570,111L575,116L583,119.6L595,123.6L609,126.4L622,128.4L634,130.4L646,133L658,135.2L669,137.6"/>
</g>
<g clip-path="url(#fr)" font-size="12.5">
<rect x="485" y="85" width="24" height="11" fill="#fff"/><text x="486" y="95.6" textLength="21.5" lengthAdjust="spacingAndGlyphs">17.4</text>
<rect x="474.4" y="114.4" width="24.4" height="11.2" fill="#fff"/><text x="475.4" y="125.1" textLength="21.9" lengthAdjust="spacingAndGlyphs">17.4</text>
<rect x="525" y="179" width="25" height="11.6" fill="#fff"/><text x="526" y="189.9" textLength="22.5" lengthAdjust="spacingAndGlyphs">16.8</text>
<rect x="532.5" y="190" width="13.5" height="10.6" fill="#fff"/><text x="533.5" y="200.4" textLength="11" lengthAdjust="spacingAndGlyphs">17</text>
<rect x="515" y="200.2" width="24" height="11.6" fill="#fff"/><text x="516" y="211.1" textLength="21.5" lengthAdjust="spacingAndGlyphs">17.2</text>
<rect x="485" y="217.2" width="24" height="11" fill="#fff"/><text x="486" y="227.8" textLength="21.5" lengthAdjust="spacingAndGlyphs">17.4</text>
<rect x="464.4" y="239" width="24.6" height="11" fill="#fff"/><text x="465.4" y="249.6" textLength="22.1" lengthAdjust="spacingAndGlyphs">17.6</text>
<rect x="455" y="275" width="24" height="11" fill="#fff"/><text x="456" y="285.6" textLength="21.5" lengthAdjust="spacingAndGlyphs">17.8</text>
<rect x="693" y="176.5" width="15" height="10.6" fill="#fff"/><text x="694" y="186.9" textLength="12.5" lengthAdjust="spacingAndGlyphs">18</text>
<rect x="572" y="242.4" width="15" height="10.6" fill="#fff"/><text x="573" y="252.8" textLength="12.5" lengthAdjust="spacingAndGlyphs">18</text>
<rect x="343" y="296.8" width="24" height="10.5" fill="#fff"/><text x="344" y="307.1" textLength="21.5" lengthAdjust="spacingAndGlyphs">17.2</text>
<rect x="351.5" y="301.5" width="13" height="10" fill="#fff"/><text x="352.5" y="311.6" textLength="10.5" lengthAdjust="spacingAndGlyphs">17</text>
<rect x="333" y="306.2" width="24" height="10.5" fill="#fff"/><text x="334" y="316.6" textLength="21.5" lengthAdjust="spacingAndGlyphs">16.8</text>
<rect x="333" y="315.2" width="24" height="10" fill="#fff"/><text x="334" y="325.3" textLength="21.5" lengthAdjust="spacingAndGlyphs">16.6</text>
<rect x="353" y="293.2" width="25" height="11.5" fill="#fff"/><text x="354" y="304.1" textLength="22.5" lengthAdjust="spacingAndGlyphs">17.4</text>
<rect x="414.2" y="334" width="24" height="11" fill="#fff"/><text x="415.2" y="344.6" textLength="21.5" lengthAdjust="spacingAndGlyphs">17.8</text>
<rect x="400.3" y="368.2" width="14.6" height="11.6" fill="#fff"/><text x="401.3" y="379.1" textLength="12.1" lengthAdjust="spacingAndGlyphs">18</text>
<rect x="545.5" y="318.1" width="24.5" height="11.4" fill="#fff"/><text x="546.5" y="328.9" textLength="22" lengthAdjust="spacingAndGlyphs">18.2</text>
<rect x="333" y="371.4" width="24" height="11.2" fill="#fff"/><text x="334" y="382.1" textLength="21.5" lengthAdjust="spacingAndGlyphs">16.6</text>
<rect x="200.6" y="421.1" width="25" height="10" fill="#fff"/><text x="201.6" y="431.2" textLength="22.5" lengthAdjust="spacingAndGlyphs">16.6</text>
<rect x="231.8" y="409.5" width="24" height="10" fill="#fff"/><text x="232.8" y="419.6" textLength="21.5" lengthAdjust="spacingAndGlyphs">16</text>
<rect x="231.8" y="414.5" width="24" height="10" fill="#fff"/><text x="232.8" y="424.6" textLength="21.5" lengthAdjust="spacingAndGlyphs">16.2</text>
<rect x="231.8" y="420.8" width="24" height="10.5" fill="#fff"/><text x="232.8" y="431.1" textLength="21.5" lengthAdjust="spacingAndGlyphs">16.4</text>
<rect x="191.2" y="446" width="24.8" height="11" fill="#fff"/><text x="192.2" y="456.6" textLength="22.3" lengthAdjust="spacingAndGlyphs">16.6</text>
<rect x="313" y="446.1" width="24" height="11.8" fill="#fff"/><text x="314" y="457.1" textLength="21.5" lengthAdjust="spacingAndGlyphs">16.6</text>
<rect x="181.6" y="469.6" width="24" height="10.8" fill="#fff"/><text x="182.6" y="480.1" textLength="21.5" lengthAdjust="spacingAndGlyphs">16.4</text>
<rect x="120.6" y="515" width="24.4" height="11.4" fill="#fff"/><text x="121.6" y="525.8" textLength="21.9" lengthAdjust="spacingAndGlyphs">16.8</text>
<rect x="130.2" y="524.4" width="24.5" height="11.6" fill="#fff"/><text x="131.2" y="535.3" textLength="22" lengthAdjust="spacingAndGlyphs">17.2</text>
<rect x="270" y="534.8" width="25.3" height="10.5" fill="#fff"/><text x="271" y="545.1" textLength="22.8" lengthAdjust="spacingAndGlyphs">16.6</text>
<rect x="313" y="473.5" width="24" height="10" fill="#fff"/><text x="314" y="483.6" textLength="21.5" lengthAdjust="spacingAndGlyphs">17.6</text>
<rect x="313" y="479.3" width="24" height="11" fill="#fff"/><text x="314" y="489.9" textLength="21.5" lengthAdjust="spacingAndGlyphs">17.8</text>
<rect x="349.1" y="508.3" width="15" height="11.4" fill="#fff"/><text x="350.1" y="519.1" textLength="12.5" lengthAdjust="spacingAndGlyphs">18</text>
<rect x="383" y="472.5" width="25" height="11.4" fill="#fff"/><text x="384" y="483.3" textLength="22.5" lengthAdjust="spacingAndGlyphs">16.8</text>
<rect x="400" y="481.1" width="14.8" height="11.8" fill="#fff"/><text x="401" y="492.1" textLength="12.3" lengthAdjust="spacingAndGlyphs">17</text>
<rect x="424" y="492" width="24" height="11" fill="#fff"/><text x="425" y="502.6" textLength="21.5" lengthAdjust="spacingAndGlyphs">17.2</text>
<rect x="444" y="525" width="25" height="11" fill="#fff"/><text x="445" y="535.6" textLength="22.5" lengthAdjust="spacingAndGlyphs">17.4</text>
<rect x="481" y="528.2" width="15" height="11.6" fill="#fff"/><text x="482" y="539.1" textLength="12.5" lengthAdjust="spacingAndGlyphs">18</text>
<rect x="464.1" y="461.1" width="24.8" height="10.8" fill="#fff"/><text x="465.1" y="471.6" textLength="22.3" lengthAdjust="spacingAndGlyphs">17.8</text>
<rect x="501" y="464.2" width="15" height="11.5" fill="#fff"/><text x="502" y="475.1" textLength="12.5" lengthAdjust="spacingAndGlyphs">18</text>
<rect x="551.9" y="419.2" width="15" height="11.6" fill="#fff"/><text x="552.9" y="430.1" textLength="12.5" lengthAdjust="spacingAndGlyphs">18</text>
<rect x="632.8" y="381" width="14.5" height="11" fill="#fff"/><text x="633.8" y="391.6" textLength="12" lengthAdjust="spacingAndGlyphs">18</text>
<rect x="582.4" y="446.4" width="14.6" height="11.2" fill="#fff"/><text x="583.4" y="457.1" textLength="12.1" lengthAdjust="spacingAndGlyphs">18</text>
<rect x="673" y="453.6" width="15" height="11.4" fill="#fff"/><text x="674" y="464.4" textLength="12.5" lengthAdjust="spacingAndGlyphs">18</text>
<rect x="663" y="480.3" width="15" height="10.8" fill="#fff"/><text x="664" y="490.8" textLength="12.5" lengthAdjust="spacingAndGlyphs">18</text>
</g>
<circle cx="345" cy="325.6" r="2.3" fill="#fff" stroke="#000" stroke-width="1.6"/>
<rect x="73" y="53" width="653" height="494.5" fill="none" stroke="#000" stroke-width="2" shape-rendering="crispEdges"/>
<path d="M153.5,548L153.5,553M235.5,548L235.5,553M318.5,548L318.5,553M400.5,548L400.5,553M482.5,548L482.5,553M565.5,548L565.5,553M647.5,548L647.5,553M68,72.5L72,72.5M68,168.5L72,168.5M68,264.5L72,264.5M68,360.5L72,360.5M68,455.5L72,455.5" fill="none" stroke="#000" stroke-width="1" shape-rendering="crispEdges"/>
<text x="75" y="41.9" font-size="27.6" text-anchor="start" textLength="78" lengthAdjust="spacingAndGlyphs" stroke="#fff" stroke-width="0.4" paint-order="fill stroke">Salinity</text>
<text x="169.5" y="41.9" font-size="27.6" text-anchor="start" textLength="60.5" lengthAdjust="spacingAndGlyphs" stroke="#fff" stroke-width="0.4" paint-order="fill stroke">(ppt).</text>
<text x="245.5" y="41.9" font-size="27.6" text-anchor="start" textLength="49.0" lengthAdjust="spacingAndGlyphs" stroke="#fff" stroke-width="0.4" paint-order="fill stroke">Date</text>
<text x="310" y="41.9" font-size="27.6" text-anchor="start" textLength="135" lengthAdjust="spacingAndGlyphs" stroke="#fff" stroke-width="0.4" paint-order="fill stroke">2012.06.27.</text>
<text x="461" y="41.9" font-size="27.6" text-anchor="start" textLength="50" lengthAdjust="spacingAndGlyphs" stroke="#fff" stroke-width="0.4" paint-order="fill stroke">Time</text>
<text x="526" y="41.9" font-size="27.6" text-anchor="start" textLength="139.5" lengthAdjust="spacingAndGlyphs" stroke="#fff" stroke-width="0.4" paint-order="fill stroke">00(h):00(m)</text>
<text x="682" y="41.9" font-size="27.6" text-anchor="start" textLength="43" lengthAdjust="spacingAndGlyphs" stroke="#fff" stroke-width="0.4" paint-order="fill stroke">GMT</text>
<text x="323.7" y="588" font-size="19.5" text-anchor="start" textLength="85.3" lengthAdjust="spacingAndGlyphs" stroke="#000" stroke-width="0.3">Longitude</text>
<text x="422" y="588" font-size="19.5" text-anchor="start" textLength="53.7" lengthAdjust="spacingAndGlyphs" stroke="#000" stroke-width="0.3">(East)</text>
<g transform="translate(31,0) rotate(-90)">
<text x="-372.5" y="0" font-size="19.5" text-anchor="start" textLength="69.5" lengthAdjust="spacingAndGlyphs" stroke="#000" stroke-width="0.3">Latitude</text>
<text x="-290.7" y="0" font-size="19.5" text-anchor="start" textLength="61.7" lengthAdjust="spacingAndGlyphs" stroke="#000" stroke-width="0.3">(North)</text>
</g>
<text x="111" y="107" font-size="19.5" text-anchor="start" textLength="11" lengthAdjust="spacingAndGlyphs" stroke="#fff" stroke-width="0.45" paint-order="fill stroke">Z</text>
<text x="139" y="107" font-size="19.5" text-anchor="start" textLength="15" lengthAdjust="spacingAndGlyphs" stroke="#fff" stroke-width="0.45" paint-order="fill stroke">=</text>
<text x="170" y="107" font-size="19.5" text-anchor="start" textLength="35" lengthAdjust="spacingAndGlyphs" stroke="#fff" stroke-width="0.45" paint-order="fill stroke">2.5</text>
<text x="221" y="107" font-size="19.5" text-anchor="start" textLength="17" lengthAdjust="spacingAndGlyphs" stroke="#fff" stroke-width="0.45" paint-order="fill stroke">m</text>
<text x="146.9" y="563.3" font-size="13" text-anchor="start" textLength="12.6" lengthAdjust="spacingAndGlyphs">29</text>
<text x="223.4" y="563.3" font-size="13" text-anchor="start" textLength="24.4" lengthAdjust="spacingAndGlyphs">29.5</text>
<text x="311.7" y="563.3" font-size="13" text-anchor="start" textLength="12.6" lengthAdjust="spacingAndGlyphs">30</text>
<text x="388.2" y="563.3" font-size="13" text-anchor="start" textLength="24.4" lengthAdjust="spacingAndGlyphs">30.5</text>
<text x="476.5" y="563.3" font-size="13" text-anchor="start" textLength="12.6" lengthAdjust="spacingAndGlyphs">31</text>
<text x="553.0" y="563.3" font-size="13" text-anchor="start" textLength="24.4" lengthAdjust="spacingAndGlyphs">31.5</text>
<text x="641.3" y="563.3" font-size="13" text-anchor="start" textLength="12.6" lengthAdjust="spacingAndGlyphs">32</text>
<text x="41.9" y="77.2" font-size="13" text-anchor="start" textLength="24.4" lengthAdjust="spacingAndGlyphs">46.5</text>
<text x="53.7" y="173.2" font-size="13" text-anchor="start" textLength="12.6" lengthAdjust="spacingAndGlyphs">46</text>
<text x="41.9" y="269.2" font-size="13" text-anchor="start" textLength="24.4" lengthAdjust="spacingAndGlyphs">45.5</text>
<text x="53.7" y="365.2" font-size="13" text-anchor="start" textLength="12.6" lengthAdjust="spacingAndGlyphs">45</text>
<text x="41.9" y="460.2" font-size="13" text-anchor="start" textLength="24.4" lengthAdjust="spacingAndGlyphs">44.5</text>
<text x="762" y="72" font-size="14" text-anchor="start" textLength="27" lengthAdjust="spacingAndGlyphs">18.2</text>
<text x="762" y="185" font-size="14" text-anchor="start" textLength="27" lengthAdjust="spacingAndGlyphs">16.7</text>
<text x="762" y="303" font-size="14" text-anchor="start" textLength="27" lengthAdjust="spacingAndGlyphs">15.0</text>
<text x="762" y="422" font-size="14" text-anchor="start" textLength="27" lengthAdjust="spacingAndGlyphs">13.3</text>
<text x="762" y="540" font-size="14" text-anchor="start" textLength="27" lengthAdjust="spacingAndGlyphs">11.7</text>
<g shape-rendering="crispEdges"><rect x="734" y="534.5" width="15" height="6.3" fill="#00008c"/><rect x="734" y="528.5" width="15" height="6.3" fill="#000099"/><rect x="734" y="522.5" width="15" height="6.3" fill="#0000a6"/><rect x="734" y="516.5" width="15" height="6.3" fill="#0000b2"/><rect x="734" y="510.5" width="15" height="6.3" fill="#0000bf"/><rect x="734" y="504.5" width="15" height="6.3" fill="#0000cc"/><rect x="734" y="498.5" width="15" height="6.3" fill="#0000d9"/><rect x="734" y="492.4" width="15" height="6.3" fill="#0000e6"/><rect x="734" y="486.4" width="15" height="6.3" fill="#0000f2"/><rect x="734" y="480.4" width="15" height="6.3" fill="#0000ff"/><rect x="734" y="474.4" width="15" height="6.3" fill="#000dff"/><rect x="734" y="468.4" width="15" height="6.3" fill="#0019ff"/><rect x="734" y="462.4" width="15" height="6.3" fill="#0026ff"/><rect x="734" y="456.4" width="15" height="6.3" fill="#0033ff"/><rect x="734" y="450.4" width="15" height="6.3" fill="#0040ff"/><rect x="734" y="444.4" width="15" height="6.3" fill="#004dff"/><rect x="734" y="438.4" width="15" height="6.3" fill="#0059ff"/><rect x="734" y="432.4" width="15" height="6.3" fill="#0066ff"/><rect x="734" y="426.4" width="15" height="6.3" fill="#0073ff"/><rect x="734" y="420.4" width="15" height="6.3" fill="#0080ff"/><rect x="734" y="414.4" width="15" height="6.3" fill="#008cff"/><rect x="734" y="408.4" width="15" height="6.3" fill="#0099ff"/><rect x="734" y="402.4" width="15" height="6.3" fill="#00a6ff"/><rect x="734" y="396.4" width="15" height="6.3" fill="#00b2ff"/><rect x="734" y="390.3" width="15" height="6.3" fill="#00bfff"/><rect x="734" y="384.3" width="15" height="6.3" fill="#00ccff"/><rect x="734" y="378.3" width="15" height="6.3" fill="#00d9ff"/><rect x="734" y="372.3" width="15" height="6.3" fill="#00e5ff"/><rect x="734" y="366.3" width="15" height="6.3" fill="#00f2ff"/><rect x="734" y="360.3" width="15" height="6.3" fill="#00ffff"/><rect x="734" y="354.3" width="15" height="6.3" fill="#0dfff2"/><rect x="734" y="348.3" width="15" height="6.3" fill="#1affe5"/><rect x="734" y="342.3" width="15" height="6.3" fill="#26ffd9"/><rect x="734" y="336.3" width="15" height="6.3" fill="#33ffcc"/><rect x="734" y="330.3" width="15" height="6.3" fill="#40ffbf"/><rect x="734" y="324.3" width="15" height="6.3" fill="#4dffb2"/><rect x="734" y="318.3" width="15" height="6.3" fill="#59ffa6"/><rect x="734" y="312.3" width="15" height="6.3" fill="#66ff99"/><rect x="734" y="306.3" width="15" height="6.3" fill="#73ff8c"/><rect x="734" y="300.2" width="15" height="6.3" fill="#80ff80"/><rect x="734" y="294.2" width="15" height="6.3" fill="#8cff73"/><rect x="734" y="288.2" width="15" height="6.3" fill="#99ff66"/><rect x="734" y="282.2" width="15" height="6.3" fill="#a6ff59"/><rect x="734" y="276.2" width="15" height="6.3" fill="#b3ff4c"/><rect x="734" y="270.2" width="15" height="6.3" fill="#bfff40"/><rect x="734" y="264.2" width="15" height="6.3" fill="#ccff33"/><rect x="734" y="258.2" width="15" height="6.3" fill="#d9ff26"/><rect x="734" y="252.2" width="15" height="6.3" fill="#e5ff1a"/><rect x="734" y="246.2" width="15" height="6.3" fill="#f2ff0d"/><rect x="734" y="240.2" width="15" height="6.3" fill="#ffff00"/><rect x="734" y="234.2" width="15" height="6.3" fill="#fff200"/><rect x="734" y="228.2" width="15" height="6.3" fill="#ffe500"/><rect x="734" y="222.2" width="15" height="6.3" fill="#ffd900"/><rect x="734" y="216.2" width="15" height="6.3" fill="#ffcc00"/><rect x="734" y="210.2" width="15" height="6.3" fill="#ffbf00"/><rect x="734" y="204.1" width="15" height="6.3" fill="#ffb300"/><rect x="734" y="198.1" width="15" height="6.3" fill="#ffa600"/><rect x="734" y="192.1" width="15" height="6.3" fill="#ff9900"/><rect x="734" y="186.1" width="15" height="6.3" fill="#ff8c00"/><rect x="734" y="180.1" width="15" height="6.3" fill="#ff8000"/><rect x="734" y="174.1" width="15" height="6.3" fill="#ff7300"/><rect x="734" y="168.1" width="15" height="6.3" fill="#ff6600"/><rect x="734" y="162.1" width="15" height="6.3" fill="#ff5900"/><rect x="734" y="156.1" width="15" height="6.3" fill="#ff4c00"/><rect x="734" y="150.1" width="15" height="6.3" fill="#ff4000"/><rect x="734" y="144.1" width="15" height="6.3" fill="#ff3300"/><rect x="734" y="138.1" width="15" height="6.3" fill="#ff2600"/><rect x="734" y="132.1" width="15" height="6.3" fill="#ff1a00"/><rect x="734" y="126.1" width="15" height="6.3" fill="#ff0d00"/><rect x="734" y="120.1" width="15" height="6.3" fill="#ff0000"/><rect x="734" y="114.1" width="15" height="6.3" fill="#f20000"/><rect x="734" y="108.1" width="15" height="6.3" fill="#e50000"/><rect x="734" y="102" width="15" height="6.3" fill="#d90000"/><rect x="734" y="96" width="15" height="6.3" fill="#cc0000"/><rect x="734" y="90" width="15" height="6.3" fill="#bf0000"/><rect x="734" y="84" width="15" height="6.3" fill="#b30000"/><rect x="734" y="78" width="15" height="6.3" fill="#a60000"/><rect x="734" y="72" width="15" height="6.3" fill="#990000"/><rect x="734" y="66" width="15" height="6.3" fill="#8c0000"/><rect x="734" y="60" width="15" height="6.3" fill="#800000"/></g>
</svg></body></html>
